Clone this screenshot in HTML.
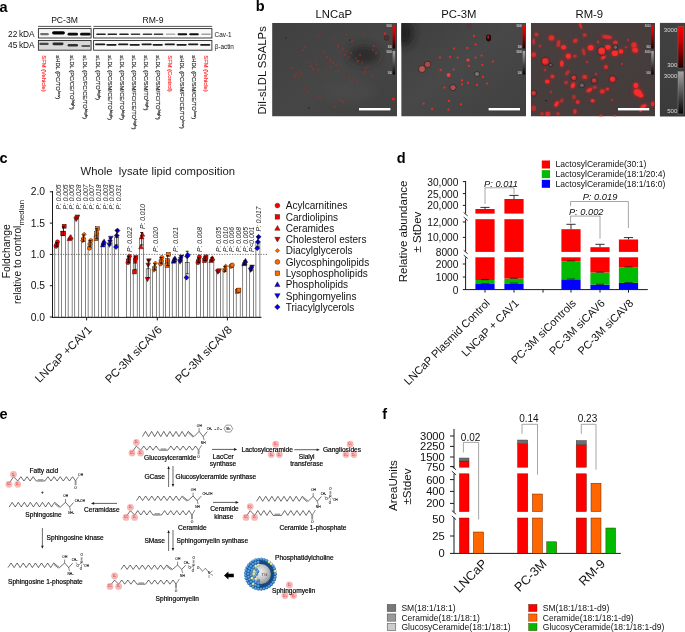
<!DOCTYPE html>
<html lang="en"><head><meta charset="utf-8"><title>Figure</title>
<style>
html,body{margin:0;padding:0;background:#fff;}
body{width:685px;height:632px;overflow:hidden;font-family:"Liberation Sans", sans-serif;}
svg{display:block;font-family:"Liberation Sans", sans-serif;}
</style></head><body>
<svg width="685" height="632" viewBox="0 0 685 632">
<defs>
<filter id="bl" x="-20%" y="-100%" width="140%" height="300%"><feGaussianBlur stdDeviation="0.45"/></filter>
<filter id="bl1" x="-50%" y="-50%" width="200%" height="200%"><feGaussianBlur stdDeviation="0.35"/></filter>
<filter id="bl3" x="-50%" y="-50%" width="200%" height="200%"><feGaussianBlur stdDeviation="4"/></filter>
<linearGradient id="gred" x1="0" y1="0" x2="0" y2="1"><stop offset="0" stop-color="#ff0000"/><stop offset="0.35" stop-color="#d00000"/><stop offset="1" stop-color="#200000"/></linearGradient>
<linearGradient id="ggray" x1="0" y1="0" x2="0" y2="1"><stop offset="0" stop-color="#a4a4a4"/><stop offset="1" stop-color="#050505"/></linearGradient>
<linearGradient id="gb1" x1="0" y1="0" x2="1" y2="1"><stop offset="0" stop-color="#404040"/><stop offset="0.55" stop-color="#464646"/><stop offset="1" stop-color="#404040"/></linearGradient>
<linearGradient id="gb2" x1="0" y1="0" x2="1" y2="1"><stop offset="0" stop-color="#3e3e3e"/><stop offset="0.45" stop-color="#484848"/><stop offset="1" stop-color="#404040"/></linearGradient>
<linearGradient id="gb3" x1="0" y1="0" x2="1" y2="1"><stop offset="0" stop-color="#483f3f"/><stop offset="1" stop-color="#443b3b"/></linearGradient>
<clipPath id="cb1"><rect x="272.1" y="22.9" width="124.9" height="93.6"/></clipPath>
<clipPath id="cb2"><rect x="401.2" y="22.9" width="124.8" height="93.6"/></clipPath>
<clipPath id="cb3"><rect x="530.8" y="22.9" width="124.3" height="93.6"/></clipPath>
<radialGradient id="gsph" cx="0.45" cy="0.4" r="0.65"><stop offset="0" stop-color="#f4f4f4"/><stop offset="0.55" stop-color="#c4c4c4"/><stop offset="1" stop-color="#8a8a8a"/></radialGradient>
<radialGradient id="gbb" cx="0.4" cy="0.35" r="0.7"><stop offset="0" stop-color="#7ab6ea"/><stop offset="0.55" stop-color="#3d86cc"/><stop offset="1" stop-color="#1b558f"/></radialGradient>
<radialGradient id="gby" cx="0.4" cy="0.35" r="0.7"><stop offset="0" stop-color="#f2f6d4"/><stop offset="0.6" stop-color="#c9d79a"/><stop offset="1" stop-color="#8b9a60"/></radialGradient>
<filter id="bl2" x="-50%" y="-50%" width="200%" height="200%"><feGaussianBlur stdDeviation="1.1"/></filter>
<linearGradient id="gcb" x1="0" y1="0" x2="0" y2="1"><stop offset="0" stop-color="#424242"/><stop offset="1" stop-color="#3a3a3a"/></linearGradient>
<filter id="bl05" x="-50%" y="-50%" width="200%" height="200%"><feGaussianBlur stdDeviation="0.55"/></filter>
<filter id="blb" x="-30%" y="-150%" width="160%" height="400%"><feGaussianBlur stdDeviation="0.7"/></filter>

</defs>
<rect width="685" height="632" fill="#fff"/>
<g id="panel_a">
<text x="-0.4" y="11.9" font-size="14.5" fill="#000" font-weight="bold" >a</text>
<text x="64.5" y="23.2" font-size="8.6" text-anchor="middle" fill="#111" >PC-3M</text>
<text x="153" y="23.2" font-size="8.6" text-anchor="middle" fill="#111" >RM-9</text>
<line x1="38" y1="26.4" x2="91.2" y2="26.4" stroke="#555" stroke-width="1.0" />
<line x1="93.4" y1="26.4" x2="212.2" y2="26.4" stroke="#555" stroke-width="1.0" />
<text x="34.6" y="37.0" font-size="8.3" text-anchor="end" fill="#111" word-spacing="-0.7">22 kDA</text>
<text x="34.6" y="47.8" font-size="8.3" text-anchor="end" fill="#111" word-spacing="-0.7">45 kDA</text>
<rect x="38.40" y="28.60" width="52.70" height="9.40" fill="#f6f6f6" stroke="#2a2a2a" stroke-width="0.9" />
<rect x="38.40" y="40.50" width="52.70" height="9.70" fill="#d8d8d8" stroke="#2a2a2a" stroke-width="0.9" />
<rect x="93.60" y="28.60" width="118.30" height="9.40" fill="#fafafa" stroke="#2a2a2a" stroke-width="0.9" />
<rect x="93.60" y="40.50" width="118.30" height="9.70" fill="#f8f8f8" stroke="#2a2a2a" stroke-width="0.9" />
<rect x="40.1" y="33.1" width="8.8" height="2.2" rx="1.1" fill="#707070" opacity="1" filter="url(#blb)"/>
<rect x="52.1" y="31.2" width="12.8" height="3.3" rx="1.65" fill="#000" opacity="1" filter="url(#blb)"/>
<rect x="67.6" y="32.8" width="10.4" height="2.8" rx="1.4" fill="#0a0a0a" opacity="1" filter="url(#blb)"/>
<rect x="80.1" y="32.8" width="10.4" height="2.8" rx="1.4" fill="#0a0a0a" opacity="1" filter="url(#blb)"/>
<rect x="39.3" y="42.8" width="9.4" height="2.3" rx="1.15" fill="#4a4a4a" opacity="1" filter="url(#blb)"/>
<rect x="52.5" y="42.5" width="11" height="2.7" rx="1.35" fill="#2a2a2a" opacity="1" filter="url(#blb)"/>
<rect x="67.6" y="44.1" width="10.4" height="2.5" rx="1.25" fill="#303030" opacity="1" filter="url(#blb)"/>
<rect x="81.3" y="44.9" width="9" height="2.2" rx="1.1" fill="#5a5a5a" opacity="1" filter="url(#blb)"/>
<rect x="96.2" y="33.5" width="9.6" height="1.5" rx="0.75" fill="#222" opacity="1" filter="url(#bl)"/>
<rect x="107.5" y="33.5" width="9.6" height="1.5" rx="0.75" fill="#222" opacity="1" filter="url(#bl)"/>
<rect x="119.2" y="33.5" width="9.6" height="1.5" rx="0.75" fill="#222" opacity="1" filter="url(#bl)"/>
<rect x="130.7" y="33.6" width="9.6" height="1.3" rx="0.65" fill="#3a3a3a" opacity="1" filter="url(#bl)"/>
<rect x="142.6" y="33.6" width="9.6" height="1.3" rx="0.65" fill="#3a3a3a" opacity="1" filter="url(#bl)"/>
<rect x="153.7" y="33.6" width="9.6" height="1.3" rx="0.65" fill="#3a3a3a" opacity="1" filter="url(#bl)"/>
<rect x="165.8" y="33.6" width="9.6" height="1.3" rx="0.65" fill="#b0b0b0" opacity="1" filter="url(#bl)"/>
<rect x="177.6" y="33.3" width="9.6" height="2.0" rx="1.0" fill="#111" opacity="1" filter="url(#bl)"/>
<rect x="189.2" y="33.3" width="9.6" height="2.0" rx="1.0" fill="#111" opacity="1" filter="url(#bl)"/>
<rect x="201.2" y="33.5" width="9.6" height="1.5" rx="0.75" fill="#a0a0a0" opacity="1" filter="url(#bl)"/>
<rect x="95.1" y="43.5" width="10.2" height="1.7" rx="0.85" fill="#1a1a1a" opacity="1" filter="url(#bl)"/>
<rect x="106.4" y="44.0" width="10.2" height="1.7" rx="0.85" fill="#1a1a1a" opacity="1" filter="url(#bl)"/>
<rect x="118.1" y="43.5" width="10.2" height="1.7" rx="0.85" fill="#1a1a1a" opacity="1" filter="url(#bl)"/>
<rect x="129.6" y="44.0" width="10.2" height="1.7" rx="0.85" fill="#1a1a1a" opacity="1" filter="url(#bl)"/>
<rect x="141.5" y="43.5" width="10.2" height="1.7" rx="0.85" fill="#1a1a1a" opacity="1" filter="url(#bl)"/>
<rect x="152.6" y="44.0" width="10.2" height="1.7" rx="0.85" fill="#1a1a1a" opacity="1" filter="url(#bl)"/>
<rect x="164.7" y="43.5" width="10.2" height="1.7" rx="0.85" fill="#1a1a1a" opacity="1" filter="url(#bl)"/>
<rect x="176.5" y="44.0" width="10.2" height="1.7" rx="0.85" fill="#1a1a1a" opacity="1" filter="url(#bl)"/>
<rect x="188.1" y="43.5" width="10.2" height="1.7" rx="0.85" fill="#1a1a1a" opacity="1" filter="url(#bl)"/>
<rect x="200.1" y="44.0" width="10.2" height="1.7" rx="0.85" fill="#1a1a1a" opacity="1" filter="url(#bl)"/>
<text x="214.6" y="36.6" font-size="6.4" fill="#111" >Cav-1</text>
<text x="214.6" y="48.6" font-size="6.4" fill="#111" >β-actin</text>
<text font-size="5.8" fill="#ff2a2a" stroke="#ff2a2a" stroke-width="0.15" transform="translate(42.4 55.3) rotate(90)">SFM (Vehicle)</text>
<text font-size="5.8" fill="#222" stroke="#222" stroke-width="0.15" transform="translate(56.2 55.3) rotate(90)">sHDL (PC/TO<tspan font-size="4.4" dy="-2.1">low</tspan><tspan dy="2.1">)</tspan></text>
<text font-size="5.8" fill="#222" stroke="#222" stroke-width="0.15" transform="translate(69.6 55.3) rotate(90)">sLDL (PC/CE/TO<tspan font-size="4.4" dy="-2.1">high</tspan><tspan dy="2.1">)</tspan></text>
<text font-size="5.8" fill="#222" stroke="#222" stroke-width="0.15" transform="translate(83.2 55.3) rotate(90)">sLDL (PC/FC/CE/TO<tspan font-size="4.4" dy="-2.1">high</tspan><tspan dy="2.1">)</tspan></text>
<text font-size="5.8" fill="#222" stroke="#222" stroke-width="0.15" transform="translate(96.3 55.3) rotate(90)">sLDL (PC/TO<tspan font-size="4.4" dy="-2.1">high</tspan><tspan dy="2.1">)</tspan></text>
<text font-size="5.8" fill="#222" stroke="#222" stroke-width="0.15" transform="translate(108.3 55.3) rotate(90)">sLDL (PC/SM/CE/TO<tspan font-size="4.4" dy="-2.1">high</tspan><tspan dy="2.1">)</tspan></text>
<text font-size="5.8" fill="#222" stroke="#222" stroke-width="0.15" transform="translate(120.3 55.3) rotate(90)">sLDL (PC/SM/CE/TO<tspan font-size="4.4" dy="-2.1">high</tspan><tspan dy="2.1">)</tspan></text>
<text font-size="5.8" fill="#222" stroke="#222" stroke-width="0.15" transform="translate(132.3 55.3) rotate(90)">sLDL (PC/SM/FC/CE/TO<tspan font-size="4.4" dy="-2.1">high</tspan><tspan dy="2.1">)</tspan></text>
<text font-size="5.8" fill="#222" stroke="#222" stroke-width="0.15" transform="translate(144.3 55.3) rotate(90)">sLDL (PC/SM/TO<tspan font-size="4.4" dy="-2.1">high</tspan><tspan dy="2.1">)</tspan></text>
<text font-size="5.8" fill="#222" stroke="#222" stroke-width="0.15" transform="translate(156.0 55.3) rotate(90)">sLDL (PC/SM/FC/TO<tspan font-size="4.4" dy="-2.1">high</tspan><tspan dy="2.1">)</tspan></text>
<text font-size="5.8" fill="#ff2a2a" stroke="#ff2a2a" stroke-width="0.15" transform="translate(168.3 55.3) rotate(90)">SFM (Control)</text>
<text font-size="5.8" fill="#222" stroke="#222" stroke-width="0.15" transform="translate(180.4 55.3) rotate(90)">sHDL (PC/SM/FC/CE/TO<tspan font-size="4.4" dy="-2.1">low</tspan><tspan dy="2.1">)</tspan></text>
<text font-size="5.8" fill="#222" stroke="#222" stroke-width="0.15" transform="translate(192.4 55.3) rotate(90)">sHDL (PC/SM/CE/TO<tspan font-size="4.4" dy="-2.1">low</tspan><tspan dy="2.1">)</tspan></text>
<text font-size="5.8" fill="#ff2a2a" stroke="#ff2a2a" stroke-width="0.15" transform="translate(204.4 55.3) rotate(90)">SFM (Vehicle)</text>
</g>
<g id="panel_b">
<text x="255.8" y="10.5" font-size="14.5" fill="#000" font-weight="bold" >b</text>
<text x="333.8" y="17.6" font-size="11.3" text-anchor="middle" fill="#111" >LNCaP</text>
<text x="458.8" y="17.6" font-size="11.3" text-anchor="middle" fill="#111" >PC-3M</text>
<text x="589.3" y="17.6" font-size="11.3" text-anchor="middle" fill="#111" >RM-9</text>
<text x="265.7" y="114.6" font-size="11.25" fill="#111" transform="rotate(-90 265.7 114.6)" >DiI-sLDL SSALPs</text>
<g clip-path="url(#cb1)">
<rect x="272.10" y="22.90" width="124.90" height="93.60" fill="url(#gb1)" />
<ellipse cx="364" cy="55" rx="15" ry="9" fill="#242424" opacity="0.75" filter="url(#bl3)"/>
<ellipse cx="350" cy="92" rx="26" ry="10" fill="#505050" opacity="0.4" filter="url(#bl3)"/>
<circle cx="305" cy="47" r="0.93" fill="#b42c24" opacity="0.49" filter="url(#bl1)"/>
<circle cx="303" cy="50" r="1.00" fill="#b42c24" opacity="0.50" filter="url(#bl1)"/>
<circle cx="320" cy="35" r="1.14" fill="#b42c24" opacity="0.37" filter="url(#bl1)"/>
<circle cx="317" cy="37" r="0.81" fill="#b42c24" opacity="0.56" filter="url(#bl1)"/>
<circle cx="309" cy="62" r="0.94" fill="#b42c24" opacity="0.41" filter="url(#bl1)"/>
<circle cx="311" cy="66" r="1.35" fill="#b42c24" opacity="0.47" filter="url(#bl1)"/>
<circle cx="313" cy="69" r="1.26" fill="#b42c24" opacity="0.47" filter="url(#bl1)"/>
<circle cx="316" cy="64" r="1.15" fill="#b42c24" opacity="0.39" filter="url(#bl1)"/>
<circle cx="318" cy="70" r="1.15" fill="#b42c24" opacity="0.57" filter="url(#bl1)"/>
<circle cx="296" cy="74" r="1.09" fill="#b42c24" opacity="0.54" filter="url(#bl1)"/>
<circle cx="299" cy="76" r="1.17" fill="#b42c24" opacity="0.37" filter="url(#bl1)"/>
<circle cx="301" cy="72" r="1.22" fill="#b42c24" opacity="0.50" filter="url(#bl1)"/>
<circle cx="302" cy="75" r="0.97" fill="#b42c24" opacity="0.36" filter="url(#bl1)"/>
<circle cx="295" cy="77" r="1.28" fill="#b42c24" opacity="0.47" filter="url(#bl1)"/>
<circle cx="327" cy="57" r="1.20" fill="#b42c24" opacity="0.57" filter="url(#bl1)"/>
<circle cx="330" cy="60" r="1.19" fill="#b42c24" opacity="0.58" filter="url(#bl1)"/>
<circle cx="333" cy="63" r="1.02" fill="#b42c24" opacity="0.55" filter="url(#bl1)"/>
<circle cx="331" cy="67" r="1.04" fill="#b42c24" opacity="0.58" filter="url(#bl1)"/>
<circle cx="336" cy="65" r="1.28" fill="#b42c24" opacity="0.37" filter="url(#bl1)"/>
<circle cx="341" cy="52" r="0.87" fill="#b42c24" opacity="0.40" filter="url(#bl1)"/>
<circle cx="343" cy="49" r="1.33" fill="#b42c24" opacity="0.46" filter="url(#bl1)"/>
<circle cx="345" cy="55" r="1.14" fill="#b42c24" opacity="0.43" filter="url(#bl1)"/>
<circle cx="347" cy="51" r="1.08" fill="#b42c24" opacity="0.45" filter="url(#bl1)"/>
<circle cx="349" cy="57" r="0.99" fill="#b42c24" opacity="0.50" filter="url(#bl1)"/>
<circle cx="351" cy="53" r="1.12" fill="#b42c24" opacity="0.58" filter="url(#bl1)"/>
<circle cx="338" cy="46" r="1.18" fill="#b42c24" opacity="0.58" filter="url(#bl1)"/>
<circle cx="352" cy="41" r="1.27" fill="#b42c24" opacity="0.60" filter="url(#bl1)"/>
<circle cx="356" cy="58" r="1.17" fill="#b42c24" opacity="0.39" filter="url(#bl1)"/>
<circle cx="358" cy="61" r="1.27" fill="#b42c24" opacity="0.59" filter="url(#bl1)"/>
<circle cx="360" cy="55" r="1.30" fill="#b42c24" opacity="0.49" filter="url(#bl1)"/>
<circle cx="362" cy="63" r="1.19" fill="#b42c24" opacity="0.40" filter="url(#bl1)"/>
<circle cx="366" cy="68" r="1.26" fill="#b42c24" opacity="0.49" filter="url(#bl1)"/>
<circle cx="368" cy="66" r="0.96" fill="#b42c24" opacity="0.37" filter="url(#bl1)"/>
<circle cx="365" cy="72" r="1.27" fill="#b42c24" opacity="0.60" filter="url(#bl1)"/>
<circle cx="355" cy="79" r="0.85" fill="#b42c24" opacity="0.55" filter="url(#bl1)"/>
<circle cx="358" cy="82" r="1.03" fill="#b42c24" opacity="0.39" filter="url(#bl1)"/>
<circle cx="352" cy="81" r="0.96" fill="#b42c24" opacity="0.54" filter="url(#bl1)"/>
<circle cx="349" cy="78" r="1.28" fill="#b42c24" opacity="0.36" filter="url(#bl1)"/>
<circle cx="344" cy="75" r="1.14" fill="#b42c24" opacity="0.36" filter="url(#bl1)"/>
<circle cx="373" cy="50" r="1.20" fill="#b42c24" opacity="0.43" filter="url(#bl1)"/>
<circle cx="376" cy="53" r="1.28" fill="#b42c24" opacity="0.60" filter="url(#bl1)"/>
<circle cx="374" cy="46" r="1.08" fill="#b42c24" opacity="0.60" filter="url(#bl1)"/>
<circle cx="380" cy="60" r="0.97" fill="#b42c24" opacity="0.37" filter="url(#bl1)"/>
<circle cx="372" cy="76" r="1.13" fill="#b42c24" opacity="0.36" filter="url(#bl1)"/>
<circle cx="334" cy="38" r="0.91" fill="#b42c24" opacity="0.45" filter="url(#bl1)"/>
<circle cx="346" cy="35" r="1.14" fill="#b42c24" opacity="0.39" filter="url(#bl1)"/>
<circle cx="363" cy="33" r="0.82" fill="#b42c24" opacity="0.57" filter="url(#bl1)"/>
<circle cx="304" cy="88" r="0.97" fill="#b42c24" opacity="0.59" filter="url(#bl1)"/>
<circle cx="307" cy="91" r="1.29" fill="#b42c24" opacity="0.44" filter="url(#bl1)"/>
<circle cx="317" cy="97" r="1.05" fill="#b42c24" opacity="0.48" filter="url(#bl1)"/>
<circle cx="320" cy="99" r="1.15" fill="#b42c24" opacity="0.50" filter="url(#bl1)"/>
<circle cx="341" cy="100" r="1.11" fill="#b42c24" opacity="0.51" filter="url(#bl1)"/>
<circle cx="343" cy="102" r="1.32" fill="#b42c24" opacity="0.48" filter="url(#bl1)"/>
<circle cx="335" cy="107" r="1.04" fill="#b42c24" opacity="0.53" filter="url(#bl1)"/>
<circle cx="325" cy="83" r="0.93" fill="#b42c24" opacity="0.43" filter="url(#bl1)"/>
<circle cx="292" cy="68" r="1.34" fill="#b42c24" opacity="0.48" filter="url(#bl1)"/>
<circle cx="338" cy="71" r="1.10" fill="#b42c24" opacity="0.35" filter="url(#bl1)"/>
<circle cx="323" cy="52" r="1.03" fill="#b42c24" opacity="0.49" filter="url(#bl1)"/>
<circle cx="314" cy="56" r="0.81" fill="#b42c24" opacity="0.50" filter="url(#bl1)"/>
<circle cx="327" cy="72" r="1.15" fill="#b42c24" opacity="0.37" filter="url(#bl1)"/>
<circle cx="386.5" cy="38" r="2.3" fill="#6a2a2a" stroke="#222" stroke-width="0.5"/>
<circle cx="385" cy="33.5" r="1.3" fill="#e02020"/>
<circle cx="393.5" cy="99" r="1.6" fill="#e02020"/>
<circle cx="286" cy="38" r="1" fill="#303030"/>
<circle cx="350" cy="40" r="1" fill="#303030"/>
<circle cx="309" cy="108" r="1" fill="#303030"/>
</g>
<rect x="392.60" y="25.00" width="2.60" height="23.50" fill="url(#gred)" /><rect x="392.60" y="51.00" width="2.60" height="23.50" fill="url(#ggray)" /><text x="392.0" y="27.4" font-size="2.6" text-anchor="end" fill="#eee" >3000</text><text x="392.0" y="48.2" font-size="2.6" text-anchor="end" fill="#eee" >300</text><text x="392.0" y="53.4" font-size="2.6" text-anchor="end" fill="#eee" >3000</text><text x="392.0" y="74.2" font-size="2.6" text-anchor="end" fill="#eee" >500</text>
<rect x="359.00" y="108.00" width="31.40" height="2.40" fill="#fff" />
<g clip-path="url(#cb2)">
<rect x="401.20" y="22.90" width="124.80" height="93.60" fill="url(#gb2)" />
<ellipse cx="404" cy="33" rx="9" ry="13" fill="#1e1e1e" opacity="0.9" filter="url(#bl3)"/>
<circle cx="474" cy="36" r="1.15" fill="#f02a24" opacity="0.95" filter="url(#bl1)"/>
<circle cx="475.6" cy="44.4" r="1.15" fill="#f02a24" opacity="0.95" filter="url(#bl1)"/>
<circle cx="467.4" cy="48" r="1.15" fill="#f02a24" opacity="0.95" filter="url(#bl1)"/>
<circle cx="450" cy="57" r="1.15" fill="#f02a24" opacity="0.95" filter="url(#bl1)"/>
<circle cx="457.6" cy="57.6" r="1.15" fill="#f02a24" opacity="0.95" filter="url(#bl1)"/>
<circle cx="475.6" cy="57.6" r="1.15" fill="#f02a24" opacity="0.95" filter="url(#bl1)"/>
<circle cx="481.6" cy="55.6" r="1.15" fill="#f02a24" opacity="0.95" filter="url(#bl1)"/>
<circle cx="493" cy="61.6" r="1.15" fill="#f02a24" opacity="0.95" filter="url(#bl1)"/>
<circle cx="482.4" cy="65" r="1.15" fill="#f02a24" opacity="0.95" filter="url(#bl1)"/>
<circle cx="469" cy="66" r="1.15" fill="#f02a24" opacity="0.95" filter="url(#bl1)"/>
<circle cx="440.6" cy="70" r="1.15" fill="#f02a24" opacity="0.95" filter="url(#bl1)"/>
<circle cx="453.6" cy="69.6" r="1.15" fill="#f02a24" opacity="0.95" filter="url(#bl1)"/>
<circle cx="483" cy="77" r="1.15" fill="#f02a24" opacity="0.95" filter="url(#bl1)"/>
<circle cx="462" cy="80.4" r="1.15" fill="#f02a24" opacity="0.95" filter="url(#bl1)"/>
<circle cx="468" cy="83" r="1.15" fill="#f02a24" opacity="0.95" filter="url(#bl1)"/>
<circle cx="477" cy="85" r="1.15" fill="#f02a24" opacity="0.95" filter="url(#bl1)"/>
<circle cx="487" cy="83.6" r="1.15" fill="#f02a24" opacity="0.95" filter="url(#bl1)"/>
<circle cx="462" cy="84.4" r="1.15" fill="#f02a24" opacity="0.95" filter="url(#bl1)"/>
<circle cx="444.4" cy="87.6" r="1.15" fill="#f02a24" opacity="0.95" filter="url(#bl1)"/>
<circle cx="449" cy="101" r="1.15" fill="#f02a24" opacity="0.95" filter="url(#bl1)"/>
<circle cx="423.6" cy="103.6" r="1.15" fill="#f02a24" opacity="0.95" filter="url(#bl1)"/>
<circle cx="461" cy="104.4" r="1.15" fill="#f02a24" opacity="0.95" filter="url(#bl1)"/>
<circle cx="432" cy="109" r="1.15" fill="#f02a24" opacity="0.95" filter="url(#bl1)"/>
<circle cx="448.4" cy="109.6" r="1.15" fill="#f02a24" opacity="0.95" filter="url(#bl1)"/>
<circle cx="454" cy="48.6" r="1.15" fill="#f02a24" opacity="0.95" filter="url(#bl1)"/>
<circle cx="440" cy="57.6" r="1.15" fill="#f02a24" opacity="0.95" filter="url(#bl1)"/>
<circle cx="468" cy="60" r="1.6" fill="#ff3a30"/>
<circle cx="448.6" cy="75" r="2" fill="#ff3a30" filter="url(#bl1)"/>
<circle cx="469" cy="26.4" r="1.8" fill="#7a3030" stroke="#333" stroke-width="0.4"/>
<circle cx="427.6" cy="64.4" r="3.2" fill="#a84a48" stroke="#1a1a1a" stroke-width="0.6"/>
<circle cx="422" cy="69" r="3.5" fill="#b85452" stroke="#1a1a1a" stroke-width="0.6"/>
<circle cx="453" cy="87.6" r="3.1" fill="#a85050" stroke="#1a1a1a" stroke-width="0.6"/>
<circle cx="477" cy="74" r="2.5" fill="#7a7474" stroke="#1a1a1a" stroke-width="0.6"/>
<ellipse cx="488.6" cy="38" rx="2.6" ry="3.4" fill="#1a0a0a"/>
<ellipse cx="488.2" cy="37" rx="1" ry="1.8" fill="#c01818"/>
</g>
<rect x="522.60" y="25.00" width="2.60" height="23.50" fill="url(#gred)" /><rect x="522.60" y="51.00" width="2.60" height="23.50" fill="url(#ggray)" /><text x="522.0" y="27.4" font-size="2.6" text-anchor="end" fill="#eee" >3000</text><text x="522.0" y="48.2" font-size="2.6" text-anchor="end" fill="#eee" >300</text><text x="522.0" y="53.4" font-size="2.6" text-anchor="end" fill="#eee" >3000</text><text x="522.0" y="74.2" font-size="2.6" text-anchor="end" fill="#eee" >500</text>
<rect x="488.60" y="108.00" width="31.40" height="2.40" fill="#fff" />
<g clip-path="url(#cb3)">
<rect x="530.80" y="22.90" width="124.30" height="93.60" fill="url(#gb3)" />
<ellipse cx="580.5" cy="25.7" rx="1.87" ry="5.44" transform="rotate(-20 580.5 25.7)" fill="#d81a1a" opacity="0.27" filter="url(#bl2)"/>
<ellipse cx="536.5" cy="34.6" rx="3.40" ry="3.40" transform="rotate(0 536.5 34.6)" fill="#d81a1a" opacity="0.17" filter="url(#bl2)"/>
<ellipse cx="533.7" cy="41.6" rx="2.38" ry="5.44" transform="rotate(0 533.7 41.6)" fill="#d81a1a" opacity="0.14" filter="url(#bl2)"/>
<ellipse cx="551.5" cy="37.9" rx="4.93" ry="4.42" transform="rotate(0 551.5 37.9)" fill="#d81a1a" opacity="0.22" filter="url(#bl2)"/>
<ellipse cx="558.5" cy="43.5" rx="3.06" ry="6.12" transform="rotate(10 558.5 43.5)" fill="#d81a1a" opacity="0.17" filter="url(#bl2)"/>
<ellipse cx="563.6" cy="47.2" rx="4.25" ry="3.91" transform="rotate(0 563.6 47.2)" fill="#d81a1a" opacity="0.30" filter="url(#bl2)"/>
<ellipse cx="575.3" cy="40.7" rx="4.08" ry="3.40" transform="rotate(-30 575.3 40.7)" fill="#d81a1a" opacity="0.21" filter="url(#bl2)"/>
<ellipse cx="584.7" cy="35.1" rx="3.40" ry="3.40" transform="rotate(0 584.7 35.1)" fill="#d81a1a" opacity="0.14" filter="url(#bl2)"/>
<ellipse cx="590.7" cy="47.7" rx="4.93" ry="4.59" transform="rotate(0 590.7 47.7)" fill="#d81a1a" opacity="0.30" filter="url(#bl2)"/>
<ellipse cx="583.7" cy="51.9" rx="2.72" ry="5.78" transform="rotate(-15 583.7 51.9)" fill="#d81a1a" opacity="0.15" filter="url(#bl2)"/>
<ellipse cx="568.3" cy="56.1" rx="4.42" ry="4.42" transform="rotate(0 568.3 56.1)" fill="#d81a1a" opacity="0.30" filter="url(#bl2)"/>
<ellipse cx="574.9" cy="56.1" rx="3.40" ry="2.72" transform="rotate(0 574.9 56.1)" fill="#d81a1a" opacity="0.14" filter="url(#bl2)"/>
<ellipse cx="533.7" cy="54.7" rx="4.08" ry="4.08" transform="rotate(0 533.7 54.7)" fill="#d81a1a" opacity="0.21" filter="url(#bl2)"/>
<ellipse cx="561.8" cy="63.6" rx="3.06" ry="5.44" transform="rotate(0 561.8 63.6)" fill="#d81a1a" opacity="0.28" filter="url(#bl2)"/>
<ellipse cx="607" cy="37" rx="8.50" ry="3.23" transform="rotate(8 607 37)" fill="#d81a1a" opacity="0.21" filter="url(#bl2)"/>
<ellipse cx="615.4" cy="42.6" rx="3.91" ry="3.40" transform="rotate(0 615.4 42.6)" fill="#d81a1a" opacity="0.21" filter="url(#bl2)"/>
<ellipse cx="607.9" cy="47.2" rx="4.59" ry="4.25" transform="rotate(0 607.9 47.2)" fill="#d81a1a" opacity="0.30" filter="url(#bl2)"/>
<ellipse cx="614.9" cy="53.3" rx="5.27" ry="4.76" transform="rotate(0 614.9 53.3)" fill="#d81a1a" opacity="0.30" filter="url(#bl2)"/>
<ellipse cx="621" cy="51.4" rx="3.91" ry="3.74" transform="rotate(0 621 51.4)" fill="#d81a1a" opacity="0.30" filter="url(#bl2)"/>
<ellipse cx="603.2" cy="57.5" rx="4.42" ry="2.55" transform="rotate(-35 603.2 57.5)" fill="#d81a1a" opacity="0.30" filter="url(#bl2)"/>
<ellipse cx="634" cy="44.9" rx="4.76" ry="4.42" transform="rotate(0 634 44.9)" fill="#d81a1a" opacity="0.21" filter="url(#bl2)"/>
<ellipse cx="635.2" cy="50" rx="5.10" ry="4.42" transform="rotate(20 635.2 50)" fill="#d81a1a" opacity="0.28" filter="url(#bl2)"/>
<ellipse cx="606" cy="66.9" rx="3.23" ry="3.74" transform="rotate(0 606 66.9)" fill="#d81a1a" opacity="0.21" filter="url(#bl2)"/>
<ellipse cx="626" cy="47.2" rx="2.04" ry="2.04" transform="rotate(0 626 47.2)" fill="#d81a1a" opacity="0.12" filter="url(#bl2)"/>
<ellipse cx="598" cy="42" rx="2.38" ry="2.38" transform="rotate(0 598 42)" fill="#d81a1a" opacity="0.12" filter="url(#bl2)"/>
<ellipse cx="628" cy="40" rx="2.04" ry="2.04" transform="rotate(0 628 40)" fill="#d81a1a" opacity="0.10" filter="url(#bl2)"/>
<ellipse cx="552.4" cy="76.4" rx="3.40" ry="3.40" transform="rotate(0 552.4 76.4)" fill="#d81a1a" opacity="0.21" filter="url(#bl2)"/>
<ellipse cx="547.3" cy="81.6" rx="3.91" ry="3.57" transform="rotate(0 547.3 81.6)" fill="#d81a1a" opacity="0.28" filter="url(#bl2)"/>
<ellipse cx="567.4" cy="72.7" rx="2.72" ry="5.10" transform="rotate(35 567.4 72.7)" fill="#d81a1a" opacity="0.14" filter="url(#bl2)"/>
<ellipse cx="584.7" cy="76.9" rx="4.25" ry="3.74" transform="rotate(0 584.7 76.9)" fill="#d81a1a" opacity="0.20" filter="url(#bl2)"/>
<ellipse cx="573" cy="85.3" rx="3.40" ry="4.93" transform="rotate(25 573 85.3)" fill="#d81a1a" opacity="0.30" filter="url(#bl2)"/>
<ellipse cx="566" cy="82.5" rx="3.23" ry="3.23" transform="rotate(0 566 82.5)" fill="#d81a1a" opacity="0.12" filter="url(#bl2)"/>
<ellipse cx="589.3" cy="90" rx="5.10" ry="3.06" transform="rotate(-30 589.3 90)" fill="#d81a1a" opacity="0.30" filter="url(#bl2)"/>
<ellipse cx="556.6" cy="104" rx="3.23" ry="5.10" transform="rotate(30 556.6 104)" fill="#d81a1a" opacity="0.30" filter="url(#bl2)"/>
<ellipse cx="561.8" cy="100.7" rx="2.72" ry="4.08" transform="rotate(30 561.8 100.7)" fill="#d81a1a" opacity="0.12" filter="url(#bl2)"/>
<ellipse cx="577.7" cy="102.1" rx="3.40" ry="3.40" transform="rotate(0 577.7 102.1)" fill="#d81a1a" opacity="0.21" filter="url(#bl2)"/>
<ellipse cx="573.9" cy="97" rx="3.06" ry="3.74" transform="rotate(0 573.9 97)" fill="#d81a1a" opacity="0.10" filter="url(#bl2)"/>
<ellipse cx="574.9" cy="111.5" rx="3.06" ry="4.08" transform="rotate(0 574.9 111.5)" fill="#d81a1a" opacity="0.21" filter="url(#bl2)"/>
<ellipse cx="547.8" cy="113.8" rx="4.42" ry="3.74" transform="rotate(0 547.8 113.8)" fill="#d81a1a" opacity="0.21" filter="url(#bl2)"/>
<ellipse cx="542" cy="113.8" rx="3.06" ry="3.06" transform="rotate(0 542 113.8)" fill="#d81a1a" opacity="0.12" filter="url(#bl2)"/>
<ellipse cx="533.7" cy="108.2" rx="4.08" ry="4.42" transform="rotate(0 533.7 108.2)" fill="#d81a1a" opacity="0.12" filter="url(#bl2)"/>
<ellipse cx="558" cy="113.8" rx="3.06" ry="3.06" transform="rotate(0 558 113.8)" fill="#d81a1a" opacity="0.12" filter="url(#bl2)"/>
<ellipse cx="592.6" cy="100.7" rx="3.40" ry="3.06" transform="rotate(0 592.6 100.7)" fill="#d81a1a" opacity="0.28" filter="url(#bl2)"/>
<ellipse cx="602.3" cy="91.4" rx="4.25" ry="3.74" transform="rotate(-20 602.3 91.4)" fill="#d81a1a" opacity="0.22" filter="url(#bl2)"/>
<ellipse cx="607.4" cy="89" rx="3.06" ry="2.72" transform="rotate(0 607.4 89)" fill="#d81a1a" opacity="0.21" filter="url(#bl2)"/>
<ellipse cx="594.8" cy="87.2" rx="3.40" ry="3.06" transform="rotate(0 594.8 87.2)" fill="#d81a1a" opacity="0.12" filter="url(#bl2)"/>
<ellipse cx="635.9" cy="85.3" rx="4.08" ry="4.42" transform="rotate(0 635.9 85.3)" fill="#d81a1a" opacity="0.30" filter="url(#bl2)"/>
<ellipse cx="637.8" cy="92.6" rx="7.14" ry="5.78" transform="rotate(35 637.8 92.6)" fill="#d81a1a" opacity="0.30" filter="url(#bl2)"/>
<ellipse cx="641" cy="95.5" rx="4.08" ry="3.40" transform="rotate(0 641 95.5)" fill="#d81a1a" opacity="0.30" filter="url(#bl2)"/>
<ellipse cx="643.4" cy="106.3" rx="5.44" ry="3.23" transform="rotate(-25 643.4 106.3)" fill="#d81a1a" opacity="0.30" filter="url(#bl2)"/>
<ellipse cx="640.6" cy="110.5" rx="2.38" ry="2.72" transform="rotate(0 640.6 110.5)" fill="#d81a1a" opacity="0.24" filter="url(#bl2)"/>
<ellipse cx="652.7" cy="104" rx="3.06" ry="4.08" transform="rotate(0 652.7 104)" fill="#d81a1a" opacity="0.21" filter="url(#bl2)"/>
<ellipse cx="600.9" cy="116" rx="2.72" ry="2.38" transform="rotate(0 600.9 116)" fill="#d81a1a" opacity="0.18" filter="url(#bl2)"/>
<ellipse cx="614.9" cy="116" rx="2.38" ry="2.04" transform="rotate(0 614.9 116)" fill="#d81a1a" opacity="0.15" filter="url(#bl2)"/>
<ellipse cx="545" cy="70" rx="2.38" ry="2.38" transform="rotate(0 545 70)" fill="#d81a1a" opacity="0.10" filter="url(#bl2)"/>
<ellipse cx="540" cy="46" rx="2.21" ry="2.72" transform="rotate(0 540 46)" fill="#d81a1a" opacity="0.10" filter="url(#bl2)"/>
<ellipse cx="596" cy="74" rx="2.21" ry="2.21" transform="rotate(0 596 74)" fill="#d81a1a" opacity="0.10" filter="url(#bl2)"/>
<ellipse cx="622" cy="64" rx="2.04" ry="2.04" transform="rotate(0 622 64)" fill="#d81a1a" opacity="0.09" filter="url(#bl2)"/>
<ellipse cx="587" cy="62" rx="2.21" ry="2.21" transform="rotate(0 587 62)" fill="#d81a1a" opacity="0.10" filter="url(#bl2)"/>
<ellipse cx="551" cy="92" rx="2.21" ry="2.21" transform="rotate(0 551 92)" fill="#d81a1a" opacity="0.09" filter="url(#bl2)"/>
<ellipse cx="612" cy="100" rx="2.04" ry="2.04" transform="rotate(0 612 100)" fill="#d81a1a" opacity="0.09" filter="url(#bl2)"/>
<ellipse cx="580.5" cy="25.7" rx="1.10" ry="3.20" transform="rotate(-20 580.5 25.7)" fill="#ff2a2a" opacity="0.93" filter="url(#bl05)"/>
<ellipse cx="536.5" cy="34.6" rx="2.00" ry="2.00" transform="rotate(0 536.5 34.6)" fill="#ff2a2a" opacity="0.66" filter="url(#bl05)"/>
<ellipse cx="533.7" cy="41.6" rx="1.40" ry="3.20" transform="rotate(0 533.7 41.6)" fill="#ff2a2a" opacity="0.59" filter="url(#bl05)"/>
<ellipse cx="551.5" cy="37.9" rx="2.90" ry="2.60" transform="rotate(0 551.5 37.9)" fill="#ff2a2a" opacity="0.81" filter="url(#bl05)"/>
<ellipse cx="558.5" cy="43.5" rx="1.80" ry="3.60" transform="rotate(10 558.5 43.5)" fill="#ff2a2a" opacity="0.66" filter="url(#bl05)"/>
<ellipse cx="563.6" cy="47.2" rx="2.50" ry="2.30" transform="rotate(0 563.6 47.2)" fill="#ff2a2a" opacity="1.00" filter="url(#bl05)"/>
<ellipse cx="575.3" cy="40.7" rx="2.40" ry="2.00" transform="rotate(-30 575.3 40.7)" fill="#ff2a2a" opacity="0.77" filter="url(#bl05)"/>
<ellipse cx="584.7" cy="35.1" rx="2.00" ry="2.00" transform="rotate(0 584.7 35.1)" fill="#ff2a2a" opacity="0.59" filter="url(#bl05)"/>
<ellipse cx="590.7" cy="47.7" rx="2.90" ry="2.70" transform="rotate(0 590.7 47.7)" fill="#ff2a2a" opacity="1.00" filter="url(#bl05)"/>
<ellipse cx="583.7" cy="51.9" rx="1.60" ry="3.40" transform="rotate(-15 583.7 51.9)" fill="#ff2a2a" opacity="0.62" filter="url(#bl05)"/>
<ellipse cx="568.3" cy="56.1" rx="2.60" ry="2.60" transform="rotate(0 568.3 56.1)" fill="#ff2a2a" opacity="1.00" filter="url(#bl05)"/>
<ellipse cx="574.9" cy="56.1" rx="2.00" ry="1.60" transform="rotate(0 574.9 56.1)" fill="#ff2a2a" opacity="0.59" filter="url(#bl05)"/>
<ellipse cx="533.7" cy="54.7" rx="2.40" ry="2.40" transform="rotate(0 533.7 54.7)" fill="#ff2a2a" opacity="0.77" filter="url(#bl05)"/>
<ellipse cx="561.8" cy="63.6" rx="1.80" ry="3.20" transform="rotate(0 561.8 63.6)" fill="#ff2a2a" opacity="0.96" filter="url(#bl05)"/>
<ellipse cx="607" cy="37" rx="5.00" ry="1.90" transform="rotate(8 607 37)" fill="#ff2a2a" opacity="0.77" filter="url(#bl05)"/>
<ellipse cx="615.4" cy="42.6" rx="2.30" ry="2.00" transform="rotate(0 615.4 42.6)" fill="#ff2a2a" opacity="0.77" filter="url(#bl05)"/>
<ellipse cx="607.9" cy="47.2" rx="2.70" ry="2.50" transform="rotate(0 607.9 47.2)" fill="#ff2a2a" opacity="1.00" filter="url(#bl05)"/>
<ellipse cx="614.9" cy="53.3" rx="3.10" ry="2.80" transform="rotate(0 614.9 53.3)" fill="#ff2a2a" opacity="1.00" filter="url(#bl05)"/>
<ellipse cx="621" cy="51.4" rx="2.30" ry="2.20" transform="rotate(0 621 51.4)" fill="#ff2a2a" opacity="1.00" filter="url(#bl05)"/>
<ellipse cx="603.2" cy="57.5" rx="2.60" ry="1.50" transform="rotate(-35 603.2 57.5)" fill="#ff2a2a" opacity="1.00" filter="url(#bl05)"/>
<ellipse cx="634" cy="44.9" rx="2.80" ry="2.60" transform="rotate(0 634 44.9)" fill="#ff2a2a" opacity="0.77" filter="url(#bl05)"/>
<ellipse cx="635.2" cy="50" rx="3.00" ry="2.60" transform="rotate(20 635.2 50)" fill="#ff2a2a" opacity="0.96" filter="url(#bl05)"/>
<ellipse cx="606" cy="66.9" rx="1.90" ry="2.20" transform="rotate(0 606 66.9)" fill="#ff2a2a" opacity="0.77" filter="url(#bl05)"/>
<ellipse cx="626" cy="47.2" rx="1.20" ry="1.20" transform="rotate(0 626 47.2)" fill="#ff2a2a" opacity="0.55" filter="url(#bl05)"/>
<ellipse cx="598" cy="42" rx="1.40" ry="1.40" transform="rotate(0 598 42)" fill="#ff2a2a" opacity="0.55" filter="url(#bl05)"/>
<ellipse cx="628" cy="40" rx="1.20" ry="1.20" transform="rotate(0 628 40)" fill="#ff2a2a" opacity="0.51" filter="url(#bl05)"/>
<ellipse cx="552.4" cy="76.4" rx="2.00" ry="2.00" transform="rotate(0 552.4 76.4)" fill="#ff2a2a" opacity="0.77" filter="url(#bl05)"/>
<ellipse cx="547.3" cy="81.6" rx="2.30" ry="2.10" transform="rotate(0 547.3 81.6)" fill="#ff2a2a" opacity="0.96" filter="url(#bl05)"/>
<ellipse cx="567.4" cy="72.7" rx="1.60" ry="3.00" transform="rotate(35 567.4 72.7)" fill="#ff2a2a" opacity="0.59" filter="url(#bl05)"/>
<ellipse cx="584.7" cy="76.9" rx="2.50" ry="2.20" transform="rotate(0 584.7 76.9)" fill="#ff2a2a" opacity="0.74" filter="url(#bl05)"/>
<ellipse cx="573" cy="85.3" rx="2.00" ry="2.90" transform="rotate(25 573 85.3)" fill="#ff2a2a" opacity="1.00" filter="url(#bl05)"/>
<ellipse cx="566" cy="82.5" rx="1.90" ry="1.90" transform="rotate(0 566 82.5)" fill="#ff2a2a" opacity="0.55" filter="url(#bl05)"/>
<ellipse cx="589.3" cy="90" rx="3.00" ry="1.80" transform="rotate(-30 589.3 90)" fill="#ff2a2a" opacity="1.00" filter="url(#bl05)"/>
<ellipse cx="556.6" cy="104" rx="1.90" ry="3.00" transform="rotate(30 556.6 104)" fill="#ff2a2a" opacity="1.00" filter="url(#bl05)"/>
<ellipse cx="561.8" cy="100.7" rx="1.60" ry="2.40" transform="rotate(30 561.8 100.7)" fill="#ff2a2a" opacity="0.55" filter="url(#bl05)"/>
<ellipse cx="577.7" cy="102.1" rx="2.00" ry="2.00" transform="rotate(0 577.7 102.1)" fill="#ff2a2a" opacity="0.77" filter="url(#bl05)"/>
<ellipse cx="573.9" cy="97" rx="1.80" ry="2.20" transform="rotate(0 573.9 97)" fill="#ff2a2a" opacity="0.51" filter="url(#bl05)"/>
<ellipse cx="574.9" cy="111.5" rx="1.80" ry="2.40" transform="rotate(0 574.9 111.5)" fill="#ff2a2a" opacity="0.77" filter="url(#bl05)"/>
<ellipse cx="547.8" cy="113.8" rx="2.60" ry="2.20" transform="rotate(0 547.8 113.8)" fill="#ff2a2a" opacity="0.77" filter="url(#bl05)"/>
<ellipse cx="542" cy="113.8" rx="1.80" ry="1.80" transform="rotate(0 542 113.8)" fill="#ff2a2a" opacity="0.55" filter="url(#bl05)"/>
<ellipse cx="533.7" cy="108.2" rx="2.40" ry="2.60" transform="rotate(0 533.7 108.2)" fill="#ff2a2a" opacity="0.55" filter="url(#bl05)"/>
<ellipse cx="558" cy="113.8" rx="1.80" ry="1.80" transform="rotate(0 558 113.8)" fill="#ff2a2a" opacity="0.55" filter="url(#bl05)"/>
<ellipse cx="592.6" cy="100.7" rx="2.00" ry="1.80" transform="rotate(0 592.6 100.7)" fill="#ff2a2a" opacity="0.96" filter="url(#bl05)"/>
<ellipse cx="602.3" cy="91.4" rx="2.50" ry="2.20" transform="rotate(-20 602.3 91.4)" fill="#ff2a2a" opacity="0.81" filter="url(#bl05)"/>
<ellipse cx="607.4" cy="89" rx="1.80" ry="1.60" transform="rotate(0 607.4 89)" fill="#ff2a2a" opacity="0.77" filter="url(#bl05)"/>
<ellipse cx="594.8" cy="87.2" rx="2.00" ry="1.80" transform="rotate(0 594.8 87.2)" fill="#ff2a2a" opacity="0.55" filter="url(#bl05)"/>
<ellipse cx="635.9" cy="85.3" rx="2.40" ry="2.60" transform="rotate(0 635.9 85.3)" fill="#ff2a2a" opacity="1.00" filter="url(#bl05)"/>
<ellipse cx="637.8" cy="92.6" rx="4.20" ry="3.40" transform="rotate(35 637.8 92.6)" fill="#ff2a2a" opacity="1.00" filter="url(#bl05)"/>
<ellipse cx="641" cy="95.5" rx="2.40" ry="2.00" transform="rotate(0 641 95.5)" fill="#ff2a2a" opacity="1.00" filter="url(#bl05)"/>
<ellipse cx="643.4" cy="106.3" rx="3.20" ry="1.90" transform="rotate(-25 643.4 106.3)" fill="#ff2a2a" opacity="1.00" filter="url(#bl05)"/>
<ellipse cx="640.6" cy="110.5" rx="1.40" ry="1.60" transform="rotate(0 640.6 110.5)" fill="#ff2a2a" opacity="0.85" filter="url(#bl05)"/>
<ellipse cx="652.7" cy="104" rx="1.80" ry="2.40" transform="rotate(0 652.7 104)" fill="#ff2a2a" opacity="0.77" filter="url(#bl05)"/>
<ellipse cx="600.9" cy="116" rx="1.60" ry="1.40" transform="rotate(0 600.9 116)" fill="#ff2a2a" opacity="0.70" filter="url(#bl05)"/>
<ellipse cx="614.9" cy="116" rx="1.40" ry="1.20" transform="rotate(0 614.9 116)" fill="#ff2a2a" opacity="0.62" filter="url(#bl05)"/>
<ellipse cx="545" cy="70" rx="1.40" ry="1.40" transform="rotate(0 545 70)" fill="#ff2a2a" opacity="0.51" filter="url(#bl05)"/>
<ellipse cx="540" cy="46" rx="1.30" ry="1.60" transform="rotate(0 540 46)" fill="#ff2a2a" opacity="0.51" filter="url(#bl05)"/>
<ellipse cx="596" cy="74" rx="1.30" ry="1.30" transform="rotate(0 596 74)" fill="#ff2a2a" opacity="0.51" filter="url(#bl05)"/>
<ellipse cx="622" cy="64" rx="1.20" ry="1.20" transform="rotate(0 622 64)" fill="#ff2a2a" opacity="0.47" filter="url(#bl05)"/>
<ellipse cx="587" cy="62" rx="1.30" ry="1.30" transform="rotate(0 587 62)" fill="#ff2a2a" opacity="0.51" filter="url(#bl05)"/>
<ellipse cx="551" cy="92" rx="1.30" ry="1.30" transform="rotate(0 551 92)" fill="#ff2a2a" opacity="0.47" filter="url(#bl05)"/>
<ellipse cx="612" cy="100" rx="1.20" ry="1.20" transform="rotate(0 612 100)" fill="#ff2a2a" opacity="0.47" filter="url(#bl05)"/>
<circle cx="545.4" cy="61.3" r="4.0" fill="#e02626" fill-opacity="0.9" stroke="#161010" stroke-width="0.55" stroke-opacity="0.8"/>
<circle cx="545.0" cy="61.0" r="2.20" fill="#ff3a3a" opacity="0.55" filter="url(#bl05)"/>
<circle cx="601.8" cy="51" r="4.1" fill="#ee2a2a" fill-opacity="0.95" stroke="#161010" stroke-width="0.55" stroke-opacity="0.8"/>
<circle cx="601.4" cy="50.7" r="2.25" fill="#ff3a3a" opacity="0.55" filter="url(#bl05)"/>
<circle cx="573.9" cy="77.8" r="3.0" fill="#c03030" fill-opacity="0.8" stroke="#161010" stroke-width="0.55" stroke-opacity="0.8"/>
<circle cx="573.5" cy="77.5" r="1.65" fill="#ff3a3a" opacity="0.55" filter="url(#bl05)"/>
<circle cx="612.6" cy="79.2" r="3.5" fill="#e02828" fill-opacity="0.9" stroke="#161010" stroke-width="0.55" stroke-opacity="0.8"/>
<circle cx="612.2" cy="78.9" r="1.93" fill="#ff3a3a" opacity="0.55" filter="url(#bl05)"/>
<circle cx="594.3" cy="80.6" r="3.3" fill="#9a3434" fill-opacity="0.75" stroke="#161010" stroke-width="0.55" stroke-opacity="0.8"/>
<circle cx="593.9" cy="80.3" r="1.81" fill="#ff3a3a" opacity="0.55" filter="url(#bl05)"/>
<circle cx="533.7" cy="93.2" r="3.0" fill="#c03030" fill-opacity="0.8" stroke="#161010" stroke-width="0.55" stroke-opacity="0.8"/>
<circle cx="533.3000000000001" cy="92.9" r="1.65" fill="#ff3a3a" opacity="0.55" filter="url(#bl05)"/>
<circle cx="550.6" cy="65" r="1.7" fill="#6a6262" stroke="#141010" stroke-width="0.6"/>
<circle cx="581.9" cy="85.3" r="2.5" fill="#6a6262" stroke="#141010" stroke-width="0.6"/>
<circle cx="615.4" cy="47.2" r="2.3" fill="#6a6262" stroke="#141010" stroke-width="0.6"/>
<circle cx="545.9" cy="100.7" r="0.9" fill="#2a2222"/>
</g>
<rect x="651.20" y="25.00" width="2.60" height="23.50" fill="url(#gred)" /><rect x="651.20" y="51.00" width="2.60" height="23.50" fill="url(#ggray)" /><text x="650.6" y="27.4" font-size="2.6" text-anchor="end" fill="#eee" >3000</text><text x="650.6" y="48.2" font-size="2.6" text-anchor="end" fill="#eee" >300</text><text x="650.6" y="53.4" font-size="2.6" text-anchor="end" fill="#eee" >3000</text><text x="650.6" y="74.2" font-size="2.6" text-anchor="end" fill="#eee" >500</text>
<rect x="618.00" y="108.00" width="31.20" height="2.40" fill="#fff" />
<rect x="659.90" y="22.90" width="25.10" height="93.60" fill="url(#gcb)" />
<rect x="678.00" y="26.40" width="5.60" height="41.60" fill="url(#gred)" stroke="#777" stroke-width="0.4" />
<rect x="678.00" y="71.60" width="5.60" height="42.40" fill="url(#ggray)" stroke="#999" stroke-width="0.4" />
<text x="677.4" y="31.8" font-size="6.1" text-anchor="end" fill="#dcdcdc" >3000</text>
<text x="677.4" y="67.4" font-size="6.1" text-anchor="end" fill="#dcdcdc" >300</text>
<text x="677.4" y="77.6" font-size="6.1" text-anchor="end" fill="#dcdcdc" >3000</text>
<text x="677.4" y="113.4" font-size="6.1" text-anchor="end" fill="#dcdcdc" >500</text>
</g>
<g id="panel_c">
<text x="-0.5" y="162.9" font-size="14.5" fill="#000" font-weight="bold" >c</text>
<text x="80.5" y="175.4" font-size="11.3" fill="#1a1a1a" xml:space="preserve" style="white-space:pre">Whole  lysate lipid composition</text>
<text x="10.4" y="278.3" font-size="10.35" fill="#111" transform="rotate(-90 10.4 278.3)" >Foldchange</text>
<text font-size="10.3" fill="#1a1a1a" transform="translate(21.0 304.0) rotate(-90)">relative to control<tspan font-size="7.8" dy="3">median</tspan></text>
<line x1="52.5" y1="191" x2="52.5" y2="318" stroke="#1a1a1a" stroke-width="1" />
<line x1="52" y1="317.4" x2="261.5" y2="317.4" stroke="#1a1a1a" stroke-width="1" />
<line x1="49.8" y1="191.8" x2="52.6" y2="191.8" stroke="#1a1a1a" stroke-width="1" />
<text x="45.1" y="195.3" font-size="10.3" text-anchor="end" fill="#111" >2.0</text>
<line x1="49.8" y1="223.1" x2="52.6" y2="223.1" stroke="#1a1a1a" stroke-width="1" />
<text x="45.1" y="226.6" font-size="10.3" text-anchor="end" fill="#111" >1.5</text>
<line x1="49.8" y1="254.4" x2="52.6" y2="254.4" stroke="#1a1a1a" stroke-width="1" />
<text x="45.1" y="257.9" font-size="10.3" text-anchor="end" fill="#111" >1.0</text>
<line x1="49.8" y1="285.7" x2="52.6" y2="285.7" stroke="#1a1a1a" stroke-width="1" />
<text x="45.1" y="289.2" font-size="10.3" text-anchor="end" fill="#111" >0.5</text>
<line x1="49.8" y1="317.0" x2="52.6" y2="317.0" stroke="#1a1a1a" stroke-width="1" />
<text x="45.1" y="320.5" font-size="10.3" text-anchor="end" fill="#111" >0.0</text>
<line x1="86.6" y1="317.4" x2="86.6" y2="320.4" stroke="#1a1a1a" stroke-width="1" />
<line x1="157.3" y1="317.4" x2="157.3" y2="320.4" stroke="#1a1a1a" stroke-width="1" />
<line x1="227.4" y1="317.4" x2="227.4" y2="320.4" stroke="#1a1a1a" stroke-width="1" />
<rect x="54.80" y="244.38" width="4.00" height="72.62" fill="#fff" stroke="#222" stroke-width="0.55" />
<rect x="61.46" y="231.24" width="4.00" height="85.76" fill="#fff" stroke="#222" stroke-width="0.55" />
<rect x="68.12" y="238.12" width="4.00" height="78.88" fill="#fff" stroke="#222" stroke-width="0.55" />
<rect x="74.78" y="218.72" width="4.00" height="98.28" fill="#fff" stroke="#222" stroke-width="0.55" />
<rect x="81.44" y="238.12" width="4.00" height="78.88" fill="#fff" stroke="#222" stroke-width="0.55" />
<rect x="88.10" y="243.76" width="4.00" height="73.24" fill="#fff" stroke="#222" stroke-width="0.55" />
<rect x="94.76" y="233.74" width="4.00" height="83.26" fill="#fff" stroke="#222" stroke-width="0.55" />
<rect x="101.42" y="243.13" width="4.00" height="73.87" fill="#fff" stroke="#222" stroke-width="0.55" />
<rect x="108.08" y="241.88" width="4.00" height="75.12" fill="#fff" stroke="#222" stroke-width="0.55" />
<rect x="114.74" y="237.50" width="4.00" height="79.50" fill="#fff" stroke="#222" stroke-width="0.55" />
<rect x="126.70" y="259.41" width="4.00" height="57.59" fill="#fff" stroke="#222" stroke-width="0.55" />
<rect x="133.20" y="263.16" width="4.00" height="53.84" fill="#fff" stroke="#222" stroke-width="0.55" />
<rect x="139.70" y="238.75" width="4.00" height="78.25" fill="#fff" stroke="#222" stroke-width="0.55" />
<rect x="146.20" y="268.80" width="4.00" height="48.20" fill="#fff" stroke="#222" stroke-width="0.55" />
<rect x="152.70" y="266.92" width="4.00" height="50.08" fill="#fff" stroke="#222" stroke-width="0.55" />
<rect x="159.20" y="260.66" width="4.00" height="56.34" fill="#fff" stroke="#222" stroke-width="0.55" />
<rect x="165.70" y="260.66" width="4.00" height="56.34" fill="#fff" stroke="#222" stroke-width="0.55" />
<rect x="172.20" y="260.03" width="4.00" height="56.97" fill="#fff" stroke="#222" stroke-width="0.55" />
<rect x="178.70" y="259.41" width="4.00" height="57.59" fill="#fff" stroke="#222" stroke-width="0.55" />
<rect x="185.20" y="262.54" width="4.00" height="54.46" fill="#fff" stroke="#222" stroke-width="0.55" />
<rect x="196.70" y="260.03" width="4.00" height="56.97" fill="#fff" stroke="#222" stroke-width="0.55" />
<rect x="203.28" y="258.78" width="4.00" height="58.22" fill="#fff" stroke="#222" stroke-width="0.55" />
<rect x="209.86" y="259.41" width="4.00" height="57.59" fill="#fff" stroke="#222" stroke-width="0.55" />
<rect x="216.44" y="271.30" width="4.00" height="45.70" fill="#fff" stroke="#222" stroke-width="0.55" />
<rect x="223.02" y="268.80" width="4.00" height="48.20" fill="#fff" stroke="#222" stroke-width="0.55" />
<rect x="229.60" y="265.67" width="4.00" height="51.33" fill="#fff" stroke="#222" stroke-width="0.55" />
<rect x="236.18" y="290.71" width="4.00" height="26.29" fill="#fff" stroke="#222" stroke-width="0.55" />
<rect x="242.76" y="262.54" width="4.00" height="54.46" fill="#fff" stroke="#222" stroke-width="0.55" />
<rect x="249.34" y="268.80" width="4.00" height="48.20" fill="#fff" stroke="#222" stroke-width="0.55" />
<rect x="255.92" y="241.88" width="4.00" height="75.12" fill="#fff" stroke="#222" stroke-width="0.55" />
<line x1="52.6" y1="254.4" x2="268" y2="254.4" stroke="#333" stroke-width="0.7" stroke-dasharray="1.2 1.4"/>
<circle cx="56.10" cy="246.26" r="2.12" fill="#f80000" stroke="#2a1000" stroke-width="0.45"/>
<circle cx="56.80" cy="244.38" r="2.12" fill="#f80000" stroke="#2a1000" stroke-width="0.45"/>
<circle cx="57.50" cy="241.88" r="2.12" fill="#f80000" stroke="#2a1000" stroke-width="0.45"/>
<rect x="60.76" y="231.74" width="4.00" height="4.00" fill="#f80000" stroke="#2a1000" stroke-width="0.45"/>
<rect x="61.46" y="231.12" width="4.00" height="4.00" fill="#f80000" stroke="#2a1000" stroke-width="0.45"/>
<rect x="62.16" y="224.23" width="4.00" height="4.00" fill="#f80000" stroke="#2a1000" stroke-width="0.45"/>
<path d="M69.42 236.40 L71.77 240.63 L67.07 240.63 Z" fill="#f80000" stroke="#2a1000" stroke-width="0.45"/>
<path d="M70.12 235.15 L72.47 239.38 L67.77 239.38 Z" fill="#f80000" stroke="#2a1000" stroke-width="0.45"/>
<path d="M70.82 234.52 L73.17 238.75 L68.47 238.75 Z" fill="#f80000" stroke="#2a1000" stroke-width="0.45"/>
<path d="M76.08 221.69 L78.43 217.46 L73.73 217.46 Z" fill="#cc0000" stroke="#2a1000" stroke-width="0.45"/>
<path d="M76.78 220.44 L79.13 216.21 L74.43 216.21 Z" fill="#cc0000" stroke="#2a1000" stroke-width="0.45"/>
<path d="M77.48 219.19 L79.83 214.96 L75.13 214.96 Z" fill="#cc0000" stroke="#2a1000" stroke-width="0.45"/>
<path d="M82.74 238.42 L84.95 240.63 L82.74 242.84 L80.53 240.63 Z" fill="#ff6a00" stroke="#2a1000" stroke-width="0.45"/>
<path d="M83.44 235.91 L85.65 238.12 L83.44 240.33 L81.23 238.12 Z" fill="#ff6a00" stroke="#2a1000" stroke-width="0.45"/>
<path d="M84.14 232.16 L86.35 234.37 L84.14 236.58 L81.93 234.37 Z" fill="#ff6a00" stroke="#2a1000" stroke-width="0.45"/>
<circle cx="89.40" cy="248.14" r="2.12" fill="#ff6a00" stroke="#2a1000" stroke-width="0.45"/>
<circle cx="90.10" cy="243.76" r="2.12" fill="#ff6a00" stroke="#2a1000" stroke-width="0.45"/>
<circle cx="90.80" cy="240.63" r="2.12" fill="#ff6a00" stroke="#2a1000" stroke-width="0.45"/>
<rect x="94.06" y="236.75" width="4.00" height="4.00" fill="#ff6a00" stroke="#2a1000" stroke-width="0.45"/>
<rect x="94.76" y="231.74" width="4.00" height="4.00" fill="#ff6a00" stroke="#2a1000" stroke-width="0.45"/>
<rect x="95.46" y="226.74" width="4.00" height="4.00" fill="#ff6a00" stroke="#2a1000" stroke-width="0.45"/>
<path d="M102.72 242.66 L105.07 246.89 L100.37 246.89 Z" fill="#0000f8" stroke="#2a1000" stroke-width="0.45"/>
<path d="M103.42 240.78 L105.77 245.01 L101.07 245.01 Z" fill="#0000f8" stroke="#2a1000" stroke-width="0.45"/>
<path d="M104.12 238.90 L106.47 243.13 L101.77 243.13 Z" fill="#0000f8" stroke="#2a1000" stroke-width="0.45"/>
<path d="M109.38 247.36 L111.73 243.13 L107.03 243.13 Z" fill="#0000f8" stroke="#2a1000" stroke-width="0.45"/>
<path d="M110.08 244.23 L112.43 240.00 L107.73 240.00 Z" fill="#0000f8" stroke="#2a1000" stroke-width="0.45"/>
<path d="M110.78 240.47 L113.13 236.24 L108.43 236.24 Z" fill="#0000f8" stroke="#2a1000" stroke-width="0.45"/>
<path d="M116.04 244.30 L118.62 246.89 L116.04 249.47 L113.45 246.89 Z" fill="#0000f8" stroke="#2a1000" stroke-width="0.45"/>
<path d="M116.74 233.03 L119.32 235.62 L116.74 238.21 L114.16 235.62 Z" fill="#0000f8" stroke="#2a1000" stroke-width="0.45"/>
<path d="M117.44 228.03 L120.02 230.61 L117.44 233.20 L114.86 230.61 Z" fill="#0000f8" stroke="#2a1000" stroke-width="0.45"/>
<circle cx="128.00" cy="262.54" r="2.12" fill="#f80000" stroke="#2a1000" stroke-width="0.45"/>
<circle cx="128.70" cy="259.41" r="2.12" fill="#f80000" stroke="#2a1000" stroke-width="0.45"/>
<circle cx="129.40" cy="256.28" r="2.12" fill="#f80000" stroke="#2a1000" stroke-width="0.45"/>
<rect x="132.50" y="269.93" width="4.00" height="4.00" fill="#f80000" stroke="#2a1000" stroke-width="0.45"/>
<rect x="133.20" y="258.66" width="4.00" height="4.00" fill="#f80000" stroke="#2a1000" stroke-width="0.45"/>
<rect x="133.90" y="255.53" width="4.00" height="4.00" fill="#f80000" stroke="#2a1000" stroke-width="0.45"/>
<path d="M141.00 244.54 L143.35 248.77 L138.65 248.77 Z" fill="#f80000" stroke="#2a1000" stroke-width="0.45"/>
<path d="M141.70 234.52 L144.05 238.75 L139.35 238.75 Z" fill="#f80000" stroke="#2a1000" stroke-width="0.45"/>
<path d="M142.40 232.02 L144.75 236.25 L140.05 236.25 Z" fill="#f80000" stroke="#2a1000" stroke-width="0.45"/>
<path d="M147.50 281.79 L149.85 277.56 L145.15 277.56 Z" fill="#cc0000" stroke="#2a1000" stroke-width="0.45"/>
<path d="M148.20 267.39 L150.55 263.16 L145.85 263.16 Z" fill="#cc0000" stroke="#2a1000" stroke-width="0.45"/>
<path d="M148.90 263.01 L151.25 258.78 L146.55 258.78 Z" fill="#cc0000" stroke="#2a1000" stroke-width="0.45"/>
<path d="M154.00 267.84 L156.21 270.05 L154.00 272.26 L151.79 270.05 Z" fill="#ff6a00" stroke="#2a1000" stroke-width="0.45"/>
<path d="M154.70 264.71 L156.91 266.92 L154.70 269.13 L152.49 266.92 Z" fill="#ff6a00" stroke="#2a1000" stroke-width="0.45"/>
<path d="M155.40 260.95 L157.61 263.16 L155.40 265.37 L153.19 263.16 Z" fill="#ff6a00" stroke="#2a1000" stroke-width="0.45"/>
<circle cx="160.50" cy="263.79" r="2.12" fill="#ff6a00" stroke="#2a1000" stroke-width="0.45"/>
<circle cx="161.20" cy="260.66" r="2.12" fill="#ff6a00" stroke="#2a1000" stroke-width="0.45"/>
<circle cx="161.90" cy="257.53" r="2.12" fill="#ff6a00" stroke="#2a1000" stroke-width="0.45"/>
<rect x="165.00" y="263.67" width="4.00" height="4.00" fill="#ff6a00" stroke="#2a1000" stroke-width="0.45"/>
<rect x="165.70" y="258.66" width="4.00" height="4.00" fill="#ff6a00" stroke="#2a1000" stroke-width="0.45"/>
<rect x="166.40" y="252.40" width="4.00" height="4.00" fill="#ff6a00" stroke="#2a1000" stroke-width="0.45"/>
<path d="M173.50 258.94 L175.85 263.17 L171.15 263.17 Z" fill="#0000f8" stroke="#2a1000" stroke-width="0.45"/>
<path d="M174.20 257.68 L176.55 261.91 L171.85 261.91 Z" fill="#0000f8" stroke="#2a1000" stroke-width="0.45"/>
<path d="M174.90 255.81 L177.25 260.04 L172.55 260.04 Z" fill="#0000f8" stroke="#2a1000" stroke-width="0.45"/>
<path d="M180.00 264.26 L182.35 260.03 L177.65 260.03 Z" fill="#0000f8" stroke="#2a1000" stroke-width="0.45"/>
<path d="M180.70 261.76 L183.05 257.53 L178.35 257.53 Z" fill="#0000f8" stroke="#2a1000" stroke-width="0.45"/>
<path d="M181.40 259.25 L183.75 255.02 L179.05 255.02 Z" fill="#0000f8" stroke="#2a1000" stroke-width="0.45"/>
<path d="M186.50 274.98 L189.09 277.56 L186.50 280.15 L183.91 277.56 Z" fill="#0000f8" stroke="#2a1000" stroke-width="0.45"/>
<path d="M187.20 253.69 L189.78 256.28 L187.20 258.86 L184.61 256.28 Z" fill="#0000f8" stroke="#2a1000" stroke-width="0.45"/>
<path d="M187.90 252.44 L190.48 255.03 L187.90 257.61 L185.31 255.03 Z" fill="#0000f8" stroke="#2a1000" stroke-width="0.45"/>
<circle cx="198.00" cy="262.54" r="2.12" fill="#f80000" stroke="#2a1000" stroke-width="0.45"/>
<circle cx="198.70" cy="260.03" r="2.12" fill="#f80000" stroke="#2a1000" stroke-width="0.45"/>
<circle cx="199.40" cy="256.90" r="2.12" fill="#f80000" stroke="#2a1000" stroke-width="0.45"/>
<rect x="202.58" y="258.66" width="4.00" height="4.00" fill="#f80000" stroke="#2a1000" stroke-width="0.45"/>
<rect x="203.28" y="256.78" width="4.00" height="4.00" fill="#f80000" stroke="#2a1000" stroke-width="0.45"/>
<rect x="203.98" y="254.91" width="4.00" height="4.00" fill="#f80000" stroke="#2a1000" stroke-width="0.45"/>
<path d="M211.16 258.31 L213.51 262.54 L208.81 262.54 Z" fill="#f80000" stroke="#2a1000" stroke-width="0.45"/>
<path d="M211.86 256.43 L214.21 260.66 L209.51 260.66 Z" fill="#f80000" stroke="#2a1000" stroke-width="0.45"/>
<path d="M212.56 255.81 L214.91 260.04 L210.21 260.04 Z" fill="#f80000" stroke="#2a1000" stroke-width="0.45"/>
<path d="M217.74 274.28 L220.09 270.05 L215.39 270.05 Z" fill="#cc0000" stroke="#2a1000" stroke-width="0.45"/>
<path d="M218.44 273.65 L220.79 269.42 L216.09 269.42 Z" fill="#cc0000" stroke="#2a1000" stroke-width="0.45"/>
<path d="M219.14 273.03 L221.49 268.80 L216.79 268.80 Z" fill="#cc0000" stroke="#2a1000" stroke-width="0.45"/>
<path d="M224.32 268.47 L226.53 270.68 L224.32 272.89 L222.11 270.68 Z" fill="#ff6a00" stroke="#2a1000" stroke-width="0.45"/>
<path d="M225.02 266.59 L227.23 268.80 L225.02 271.01 L222.81 268.80 Z" fill="#ff6a00" stroke="#2a1000" stroke-width="0.45"/>
<path d="M225.72 264.08 L227.93 266.29 L225.72 268.50 L223.51 266.29 Z" fill="#ff6a00" stroke="#2a1000" stroke-width="0.45"/>
<circle cx="230.90" cy="266.29" r="2.12" fill="#ff6a00" stroke="#2a1000" stroke-width="0.45"/>
<circle cx="231.60" cy="265.67" r="2.12" fill="#ff6a00" stroke="#2a1000" stroke-width="0.45"/>
<circle cx="232.30" cy="265.04" r="2.12" fill="#ff6a00" stroke="#2a1000" stroke-width="0.45"/>
<rect x="235.48" y="289.34" width="4.00" height="4.00" fill="#ff6a00" stroke="#2a1000" stroke-width="0.45"/>
<rect x="236.18" y="288.71" width="4.00" height="4.00" fill="#ff6a00" stroke="#2a1000" stroke-width="0.45"/>
<rect x="236.88" y="288.08" width="4.00" height="4.00" fill="#ff6a00" stroke="#2a1000" stroke-width="0.45"/>
<path d="M244.06 261.44 L246.41 265.67 L241.71 265.67 Z" fill="#0000f8" stroke="#2a1000" stroke-width="0.45"/>
<path d="M244.76 260.19 L247.11 264.42 L242.41 264.42 Z" fill="#0000f8" stroke="#2a1000" stroke-width="0.45"/>
<path d="M245.46 258.31 L247.81 262.54 L243.11 262.54 Z" fill="#0000f8" stroke="#2a1000" stroke-width="0.45"/>
<path d="M250.64 272.40 L252.99 268.17 L248.29 268.17 Z" fill="#0000f8" stroke="#2a1000" stroke-width="0.45"/>
<path d="M251.34 271.15 L253.69 266.92 L248.99 266.92 Z" fill="#0000f8" stroke="#2a1000" stroke-width="0.45"/>
<path d="M252.04 269.27 L254.39 265.04 L249.69 265.04 Z" fill="#0000f8" stroke="#2a1000" stroke-width="0.45"/>
<path d="M257.22 245.55 L259.80 248.14 L257.22 250.72 L254.63 248.14 Z" fill="#0000f8" stroke="#2a1000" stroke-width="0.45"/>
<path d="M257.92 239.29 L260.50 241.88 L257.92 244.47 L255.33 241.88 Z" fill="#0000f8" stroke="#2a1000" stroke-width="0.45"/>
<path d="M258.62 234.29 L261.20 236.87 L258.62 239.46 L256.03 236.87 Z" fill="#0000f8" stroke="#2a1000" stroke-width="0.45"/>
<line x1="56.8" y1="242.506" x2="56.8" y2="246.262" stroke="#000" stroke-width="0.8" />
<line x1="55.3" y1="242.506" x2="58.3" y2="242.506" stroke="#000" stroke-width="0.8" />
<line x1="55.3" y1="246.262" x2="58.3" y2="246.262" stroke="#000" stroke-width="0.8" />
<line x1="63.459999999999994" y1="226.856" x2="63.459999999999994" y2="235.62" stroke="#000" stroke-width="0.8" />
<line x1="61.959999999999994" y1="226.856" x2="64.96" y2="226.856" stroke="#000" stroke-width="0.8" />
<line x1="61.959999999999994" y1="235.62" x2="64.96" y2="235.62" stroke="#000" stroke-width="0.8" />
<line x1="83.44" y1="234.994" x2="83.44" y2="241.25400000000002" stroke="#000" stroke-width="0.8" />
<line x1="81.94" y1="234.994" x2="84.94" y2="234.994" stroke="#000" stroke-width="0.8" />
<line x1="81.94" y1="241.25400000000002" x2="84.94" y2="241.25400000000002" stroke="#000" stroke-width="0.8" />
<line x1="90.1" y1="240.62800000000001" x2="90.1" y2="246.888" stroke="#000" stroke-width="0.8" />
<line x1="88.6" y1="240.62800000000001" x2="91.6" y2="240.62800000000001" stroke="#000" stroke-width="0.8" />
<line x1="88.6" y1="246.888" x2="91.6" y2="246.888" stroke="#000" stroke-width="0.8" />
<line x1="96.75999999999999" y1="228.73399999999998" x2="96.75999999999999" y2="238.75" stroke="#000" stroke-width="0.8" />
<line x1="95.25999999999999" y1="228.73399999999998" x2="98.25999999999999" y2="228.73399999999998" stroke="#000" stroke-width="0.8" />
<line x1="95.25999999999999" y1="238.75" x2="98.25999999999999" y2="238.75" stroke="#000" stroke-width="0.8" />
<line x1="103.42" y1="241.25400000000002" x2="103.42" y2="245.01000000000002" stroke="#000" stroke-width="0.8" />
<line x1="101.92" y1="241.25400000000002" x2="104.92" y2="241.25400000000002" stroke="#000" stroke-width="0.8" />
<line x1="101.92" y1="245.01000000000002" x2="104.92" y2="245.01000000000002" stroke="#000" stroke-width="0.8" />
<line x1="110.08" y1="238.75" x2="110.08" y2="245.01000000000002" stroke="#000" stroke-width="0.8" />
<line x1="108.58" y1="238.75" x2="111.58" y2="238.75" stroke="#000" stroke-width="0.8" />
<line x1="108.58" y1="245.01000000000002" x2="111.58" y2="245.01000000000002" stroke="#000" stroke-width="0.8" />
<line x1="116.74" y1="229.986" x2="116.74" y2="245.01000000000002" stroke="#000" stroke-width="0.8" />
<line x1="115.24" y1="229.986" x2="118.24" y2="229.986" stroke="#000" stroke-width="0.8" />
<line x1="115.24" y1="245.01000000000002" x2="118.24" y2="245.01000000000002" stroke="#000" stroke-width="0.8" />
<line x1="128.7" y1="256.278" x2="128.7" y2="262.538" stroke="#000" stroke-width="0.8" />
<line x1="127.19999999999999" y1="256.278" x2="130.2" y2="256.278" stroke="#000" stroke-width="0.8" />
<line x1="127.19999999999999" y1="262.538" x2="130.2" y2="262.538" stroke="#000" stroke-width="0.8" />
<line x1="135.2" y1="256.904" x2="135.2" y2="269.424" stroke="#000" stroke-width="0.8" />
<line x1="133.7" y1="256.904" x2="136.7" y2="256.904" stroke="#000" stroke-width="0.8" />
<line x1="133.7" y1="269.424" x2="136.7" y2="269.424" stroke="#000" stroke-width="0.8" />
<line x1="141.7" y1="232.49" x2="141.7" y2="245.01000000000002" stroke="#000" stroke-width="0.8" />
<line x1="140.2" y1="232.49" x2="143.2" y2="232.49" stroke="#000" stroke-width="0.8" />
<line x1="140.2" y1="245.01000000000002" x2="143.2" y2="245.01000000000002" stroke="#000" stroke-width="0.8" />
<line x1="148.2" y1="260.034" x2="148.2" y2="277.562" stroke="#000" stroke-width="0.8" />
<line x1="146.7" y1="260.034" x2="149.7" y2="260.034" stroke="#000" stroke-width="0.8" />
<line x1="146.7" y1="277.562" x2="149.7" y2="277.562" stroke="#000" stroke-width="0.8" />
<line x1="154.7" y1="263.79" x2="154.7" y2="270.05" stroke="#000" stroke-width="0.8" />
<line x1="153.2" y1="263.79" x2="156.2" y2="263.79" stroke="#000" stroke-width="0.8" />
<line x1="153.2" y1="270.05" x2="156.2" y2="270.05" stroke="#000" stroke-width="0.8" />
<line x1="161.2" y1="257.53000000000003" x2="161.2" y2="263.79" stroke="#000" stroke-width="0.8" />
<line x1="159.7" y1="257.53000000000003" x2="162.7" y2="257.53000000000003" stroke="#000" stroke-width="0.8" />
<line x1="159.7" y1="263.79" x2="162.7" y2="263.79" stroke="#000" stroke-width="0.8" />
<line x1="167.7" y1="255.65200000000002" x2="167.7" y2="265.668" stroke="#000" stroke-width="0.8" />
<line x1="166.2" y1="255.65200000000002" x2="169.2" y2="255.65200000000002" stroke="#000" stroke-width="0.8" />
<line x1="166.2" y1="265.668" x2="169.2" y2="265.668" stroke="#000" stroke-width="0.8" />
<line x1="174.2" y1="258.156" x2="174.2" y2="261.912" stroke="#000" stroke-width="0.8" />
<line x1="172.7" y1="258.156" x2="175.7" y2="258.156" stroke="#000" stroke-width="0.8" />
<line x1="172.7" y1="261.912" x2="175.7" y2="261.912" stroke="#000" stroke-width="0.8" />
<line x1="180.7" y1="256.904" x2="180.7" y2="261.912" stroke="#000" stroke-width="0.8" />
<line x1="179.2" y1="256.904" x2="182.2" y2="256.904" stroke="#000" stroke-width="0.8" />
<line x1="179.2" y1="261.912" x2="182.2" y2="261.912" stroke="#000" stroke-width="0.8" />
<line x1="187.2" y1="251.27" x2="187.2" y2="273.806" stroke="#000" stroke-width="0.8" />
<line x1="185.7" y1="251.27" x2="188.7" y2="251.27" stroke="#000" stroke-width="0.8" />
<line x1="185.7" y1="273.806" x2="188.7" y2="273.806" stroke="#000" stroke-width="0.8" />
<line x1="198.7" y1="257.53000000000003" x2="198.7" y2="262.538" stroke="#000" stroke-width="0.8" />
<line x1="197.2" y1="257.53000000000003" x2="200.2" y2="257.53000000000003" stroke="#000" stroke-width="0.8" />
<line x1="197.2" y1="262.538" x2="200.2" y2="262.538" stroke="#000" stroke-width="0.8" />
<line x1="205.28" y1="256.904" x2="205.28" y2="260.66" stroke="#000" stroke-width="0.8" />
<line x1="203.78" y1="256.904" x2="206.78" y2="256.904" stroke="#000" stroke-width="0.8" />
<line x1="203.78" y1="260.66" x2="206.78" y2="260.66" stroke="#000" stroke-width="0.8" />
<line x1="211.85999999999999" y1="257.53000000000003" x2="211.85999999999999" y2="261.286" stroke="#000" stroke-width="0.8" />
<line x1="210.35999999999999" y1="257.53000000000003" x2="213.35999999999999" y2="257.53000000000003" stroke="#000" stroke-width="0.8" />
<line x1="210.35999999999999" y1="261.286" x2="213.35999999999999" y2="261.286" stroke="#000" stroke-width="0.8" />
<line x1="225.01999999999998" y1="266.294" x2="225.01999999999998" y2="271.302" stroke="#000" stroke-width="0.8" />
<line x1="223.51999999999998" y1="266.294" x2="226.51999999999998" y2="266.294" stroke="#000" stroke-width="0.8" />
<line x1="223.51999999999998" y1="271.302" x2="226.51999999999998" y2="271.302" stroke="#000" stroke-width="0.8" />
<line x1="244.76" y1="260.66" x2="244.76" y2="264.416" stroke="#000" stroke-width="0.8" />
<line x1="243.26" y1="260.66" x2="246.26" y2="260.66" stroke="#000" stroke-width="0.8" />
<line x1="243.26" y1="264.416" x2="246.26" y2="264.416" stroke="#000" stroke-width="0.8" />
<line x1="251.33999999999997" y1="266.92" x2="251.33999999999997" y2="270.676" stroke="#000" stroke-width="0.8" />
<line x1="249.83999999999997" y1="266.92" x2="252.83999999999997" y2="266.92" stroke="#000" stroke-width="0.8" />
<line x1="249.83999999999997" y1="270.676" x2="252.83999999999997" y2="270.676" stroke="#000" stroke-width="0.8" />
<line x1="257.91999999999996" y1="236.872" x2="257.91999999999996" y2="246.888" stroke="#000" stroke-width="0.8" />
<line x1="256.41999999999996" y1="236.872" x2="259.41999999999996" y2="236.872" stroke="#000" stroke-width="0.8" />
<line x1="256.41999999999996" y1="246.888" x2="259.41999999999996" y2="246.888" stroke="#000" stroke-width="0.8" />
<text font-size="6.7" font-style="italic" fill="#222" transform="translate(61.0 209.5) rotate(-90)">P: 0.005</text>
<text font-size="6.7" font-style="italic" fill="#222" transform="translate(67.7 209.5) rotate(-90)">P: 0.005</text>
<text font-size="6.7" font-style="italic" fill="#222" transform="translate(74.3 209.5) rotate(-90)">P: 0.005</text>
<text font-size="6.7" font-style="italic" fill="#222" transform="translate(81.0 209.5) rotate(-90)">P: 0.028</text>
<text font-size="6.7" font-style="italic" fill="#222" transform="translate(87.6 209.5) rotate(-90)">P: 0.007</text>
<text font-size="6.7" font-style="italic" fill="#222" transform="translate(94.3 209.5) rotate(-90)">P: 0.007</text>
<text font-size="6.7" font-style="italic" fill="#222" transform="translate(101.0 209.5) rotate(-90)">P: 0.018</text>
<text font-size="6.7" font-style="italic" fill="#222" transform="translate(107.6 209.5) rotate(-90)">P: 0.003</text>
<text font-size="6.7" font-style="italic" fill="#222" transform="translate(114.3 209.5) rotate(-90)">P: 0.005</text>
<text font-size="6.7" font-style="italic" fill="#222" transform="translate(120.9 209.5) rotate(-90)">P: 0.031</text>
<text font-size="6.7" font-style="italic" fill="#222" transform="translate(132.0 252.0) rotate(-90)">P: 0.022</text>
<text font-size="6.7" font-style="italic" fill="#222" transform="translate(145.0 229.0) rotate(-90)">P: 0.010</text>
<text font-size="6.7" font-style="italic" fill="#222" transform="translate(158.0 252.0) rotate(-90)">P: 0.020</text>
<text font-size="6.7" font-style="italic" fill="#222" transform="translate(177.5 252.0) rotate(-90)">P: 0.021</text>
<text font-size="6.7" font-style="italic" fill="#222" transform="translate(201.5 252.0) rotate(-90)">P: 0.008</text>
<text font-size="6.7" font-style="italic" fill="#222" transform="translate(221.2 252.0) rotate(-90)">P: 0.035</text>
<text font-size="6.7" font-style="italic" fill="#222" transform="translate(227.8 252.0) rotate(-90)">P: 0.010</text>
<text font-size="6.7" font-style="italic" fill="#222" transform="translate(234.4 252.0) rotate(-90)">P: 0.006</text>
<text font-size="6.7" font-style="italic" fill="#222" transform="translate(241.0 252.0) rotate(-90)">P: 0.008</text>
<text font-size="6.7" font-style="italic" fill="#222" transform="translate(247.6 252.0) rotate(-90)">P: 0.005</text>
<text font-size="6.7" font-style="italic" fill="#222" transform="translate(254.1 252.0) rotate(-90)">P&lt;0.001</text>
<text font-size="6.7" font-style="italic" fill="#222" transform="translate(260.7 231.5) rotate(-90)">P: 0.017</text>
<text x="92.4" y="330.6" font-size="11.3" text-anchor="end" fill="#111" transform="rotate(-45 92.4 330.6)" >LNCaP +CAV1</text>
<text x="162.8" y="330.6" font-size="11.3" text-anchor="end" fill="#111" transform="rotate(-45 162.8 330.6)" >PC-3M siCAV6</text>
<text x="232.8" y="330.6" font-size="11.3" text-anchor="end" fill="#111" transform="rotate(-45 232.8 330.6)" >PC-3M siCAV8</text>
<circle cx="277.40" cy="205.60" r="2.38" fill="#f80000" stroke="#2a1000" stroke-width="0.45"/>
<text x="285.8" y="209.35" font-size="10" fill="#111" >Acylcarnitines</text>
<rect x="275.15" y="214.62" width="4.50" height="4.50" fill="#f80000" stroke="#2a1000" stroke-width="0.45"/>
<text x="285.8" y="220.62" font-size="10" fill="#111" >Cardiolipins</text>
<path d="M277.40 225.49 L280.05 230.26 L274.75 230.26 Z" fill="#f80000" stroke="#2a1000" stroke-width="0.45"/>
<text x="285.8" y="231.89" font-size="10" fill="#111" >Ceramides</text>
<path d="M277.40 242.06 L280.05 237.29 L274.75 237.29 Z" fill="#cc0000" stroke="#2a1000" stroke-width="0.45"/>
<text x="285.8" y="243.16" font-size="10" fill="#111" >Cholesterol esters</text>
<path d="M277.40 248.56 L279.52 250.68 L277.40 252.81 L275.27 250.68 Z" fill="#ff6a00" stroke="#2a1000" stroke-width="0.45"/>
<text x="285.8" y="254.43" font-size="10" fill="#111" >Diacylglycerols</text>
<circle cx="277.40" cy="261.95" r="2.38" fill="#ff6a00" stroke="#2a1000" stroke-width="0.45"/>
<text x="285.8" y="265.7" font-size="10" fill="#111" >Glycosphingolipids</text>
<rect x="275.15" y="270.97" width="4.50" height="4.50" fill="#ff6a00" stroke="#2a1000" stroke-width="0.45"/>
<text x="285.8" y="276.97" font-size="10" fill="#111" >Lysophospholipids</text>
<path d="M277.40 281.84 L280.05 286.61 L274.75 286.61 Z" fill="#0000f8" stroke="#2a1000" stroke-width="0.45"/>
<text x="285.8" y="288.24" font-size="10" fill="#111" >Phospholipids</text>
<path d="M277.40 298.41 L280.05 293.64 L274.75 293.64 Z" fill="#0000f8" stroke="#2a1000" stroke-width="0.45"/>
<text x="285.8" y="299.51" font-size="10" fill="#111" >Sphingomyelins</text>
<path d="M277.40 304.28 L280.15 307.03 L277.40 309.78 L274.65 307.03 Z" fill="#0000f8" stroke="#2a1000" stroke-width="0.45"/>
<text x="285.8" y="310.78" font-size="10" fill="#111" >Triacylglycerols</text>
</g>
<g id="panel_d">
<text x="396.7" y="162.9" font-size="14.5" fill="#000" font-weight="bold" >d</text>
<text x="406.6" y="282.2" font-size="11.5" fill="#111" transform="rotate(-90 406.6 282.2)" >Relative abundance</text>
<text x="421.0" y="252.5" font-size="11.5" fill="#111" transform="rotate(-90 421.0 252.5)" >± StDev</text>
<rect x="541.80" y="160.50" width="8.20" height="8.00" fill="#ff0000" />
<text x="555.6" y="167.1" font-size="8.55" fill="#111" >LactosylCeramide(30:1)</text>
<rect x="541.80" y="170.15" width="8.20" height="8.00" fill="#00bb00" />
<text x="555.6" y="177.2" font-size="8.55" fill="#111" >LactosylCeramide(18:1/20:4)</text>
<rect x="541.80" y="179.80" width="8.20" height="8.00" fill="#0000ff" />
<text x="555.6" y="187.29999999999998" font-size="8.55" fill="#111" >LactosylCeramide(18:1/16:0)</text>
<line x1="465.6" y1="181" x2="465.6" y2="213.5" stroke="#1a1a1a" stroke-width="1" />
<line x1="465.6" y1="219.5" x2="465.6" y2="251.5" stroke="#1a1a1a" stroke-width="1" />
<line x1="465.6" y1="257.5" x2="465.6" y2="290" stroke="#1a1a1a" stroke-width="1" />
<line x1="463.70000000000005" y1="212.5" x2="467.70000000000005" y2="215.89999999999998" stroke="#1a1a1a" stroke-width="0.9" />
<line x1="463.70000000000005" y1="217.10000000000002" x2="467.70000000000005" y2="220.5" stroke="#1a1a1a" stroke-width="0.9" />
<line x1="463.70000000000005" y1="250.3" x2="467.70000000000005" y2="253.7" stroke="#1a1a1a" stroke-width="0.9" />
<line x1="463.70000000000005" y1="255.10000000000002" x2="467.70000000000005" y2="258.5" stroke="#1a1a1a" stroke-width="0.9" />
<line x1="465.1" y1="289.6" x2="647.8" y2="289.6" stroke="#1a1a1a" stroke-width="1" />
<line x1="462.8" y1="181.6" x2="465.6" y2="181.6" stroke="#1a1a1a" stroke-width="1" />
<text x="458.4" y="185.5" font-size="10.2" text-anchor="end" fill="#111" >30,000</text>
<line x1="462.8" y1="193.6" x2="465.6" y2="193.6" stroke="#1a1a1a" stroke-width="1" />
<text x="458.4" y="197.5" font-size="10.2" text-anchor="end" fill="#111" >25,000</text>
<line x1="462.8" y1="205.4" x2="465.6" y2="205.4" stroke="#1a1a1a" stroke-width="1" />
<text x="458.4" y="209.3" font-size="10.2" text-anchor="end" fill="#111" >20,000</text>
<line x1="462.8" y1="222" x2="465.6" y2="222" stroke="#1a1a1a" stroke-width="1" />
<text x="458.4" y="225.9" font-size="10.2" text-anchor="end" fill="#111" >12,000</text>
<line x1="462.8" y1="237.4" x2="465.6" y2="237.4" stroke="#1a1a1a" stroke-width="1" />
<text x="458.4" y="241.3" font-size="10.2" text-anchor="end" fill="#111" >10,000</text>
<text x="458.4" y="255.5" font-size="10.2" text-anchor="end" fill="#111" >8000</text>
<line x1="462.8" y1="264" x2="465.6" y2="264" stroke="#1a1a1a" stroke-width="1" />
<text x="458.4" y="267.9" font-size="10.2" text-anchor="end" fill="#111" >2000</text>
<line x1="462.8" y1="277" x2="465.6" y2="277" stroke="#1a1a1a" stroke-width="1" />
<text x="458.4" y="280.9" font-size="10.2" text-anchor="end" fill="#111" >1000</text>
<line x1="462.8" y1="289.6" x2="465.6" y2="289.6" stroke="#1a1a1a" stroke-width="1" />
<text x="458.4" y="293.5" font-size="10.2" text-anchor="end" fill="#111" >0</text>
<line x1="485" y1="289.6" x2="485" y2="292.6" stroke="#1a1a1a" stroke-width="1" />
<line x1="514" y1="289.6" x2="514" y2="292.6" stroke="#1a1a1a" stroke-width="1" />
<line x1="543" y1="289.6" x2="543" y2="292.6" stroke="#1a1a1a" stroke-width="1" />
<line x1="571" y1="289.6" x2="571" y2="292.6" stroke="#1a1a1a" stroke-width="1" />
<line x1="600" y1="289.6" x2="600" y2="292.6" stroke="#1a1a1a" stroke-width="1" />
<line x1="628.5" y1="289.6" x2="628.5" y2="292.6" stroke="#1a1a1a" stroke-width="1" />
<rect x="475.40" y="284.00" width="19.20" height="5.60" fill="#0000ff" />
<rect x="475.40" y="280.00" width="19.20" height="4.00" fill="#00bb00" />
<rect x="475.40" y="257.30" width="19.20" height="22.70" fill="#ff0000" />
<line x1="481" y1="283.7" x2="489" y2="283.7" stroke="#101010" stroke-width="0.7" />
<line x1="481" y1="279.7" x2="489" y2="279.7" stroke="#101010" stroke-width="0.7" />
<rect x="475.40" y="219.20" width="19.20" height="32.70" fill="#ff0000" />
<rect x="475.40" y="209.00" width="19.20" height="4.60" fill="#ff0000" />
<line x1="485" y1="207.4" x2="485" y2="209" stroke="#1a1a1a" stroke-width="0.9" />
<line x1="480.4" y1="207.4" x2="489.6" y2="207.4" stroke="#1a1a1a" stroke-width="0.9" />
<rect x="504.40" y="283.40" width="19.20" height="6.20" fill="#0000ff" />
<rect x="504.40" y="278.60" width="19.20" height="4.80" fill="#00bb00" />
<rect x="504.40" y="257.30" width="19.20" height="21.30" fill="#ff0000" />
<line x1="510" y1="283.09999999999997" x2="518" y2="283.09999999999997" stroke="#101010" stroke-width="0.7" />
<line x1="510" y1="278.3" x2="518" y2="278.3" stroke="#101010" stroke-width="0.7" />
<rect x="504.40" y="219.20" width="19.20" height="32.70" fill="#ff0000" />
<rect x="504.40" y="199.00" width="19.20" height="14.60" fill="#ff0000" />
<line x1="514" y1="195.4" x2="514" y2="199" stroke="#1a1a1a" stroke-width="0.9" />
<line x1="509.4" y1="195.4" x2="518.6" y2="195.4" stroke="#1a1a1a" stroke-width="0.9" />
<rect x="561.40" y="279.30" width="19.20" height="10.30" fill="#0000ff" />
<rect x="561.40" y="261.20" width="19.20" height="18.10" fill="#00bb00" />
<rect x="561.40" y="257.30" width="19.20" height="3.90" fill="#ff0000" />
<line x1="567" y1="279.0" x2="575" y2="279.0" stroke="#101010" stroke-width="0.7" />
<line x1="567" y1="260.9" x2="575" y2="260.9" stroke="#101010" stroke-width="0.7" />
<rect x="561.40" y="229.20" width="19.20" height="22.70" fill="#ff0000" />
<line x1="571" y1="224.3" x2="571" y2="229.2" stroke="#1a1a1a" stroke-width="0.9" />
<line x1="566.4" y1="224.3" x2="575.6" y2="224.3" stroke="#1a1a1a" stroke-width="0.9" />
<rect x="590.40" y="284.60" width="19.20" height="5.00" fill="#0000ff" />
<rect x="590.40" y="272.50" width="19.20" height="12.10" fill="#00bb00" />
<rect x="590.40" y="257.30" width="19.20" height="15.20" fill="#ff0000" />
<line x1="596" y1="284.3" x2="604" y2="284.3" stroke="#101010" stroke-width="0.7" />
<line x1="596" y1="272.2" x2="604" y2="272.2" stroke="#101010" stroke-width="0.7" />
<rect x="590.40" y="247.20" width="19.20" height="4.70" fill="#ff0000" />
<line x1="600" y1="244.3" x2="600" y2="247.2" stroke="#1a1a1a" stroke-width="0.9" />
<line x1="595.4" y1="244.3" x2="604.6" y2="244.3" stroke="#1a1a1a" stroke-width="0.9" />
<rect x="618.90" y="282.90" width="19.20" height="6.70" fill="#0000ff" />
<rect x="618.90" y="267.20" width="19.20" height="15.70" fill="#00bb00" />
<rect x="618.90" y="257.30" width="19.20" height="9.90" fill="#ff0000" />
<line x1="624.5" y1="282.59999999999997" x2="632.5" y2="282.59999999999997" stroke="#101010" stroke-width="0.7" />
<line x1="624.5" y1="266.9" x2="632.5" y2="266.9" stroke="#101010" stroke-width="0.7" />
<rect x="618.90" y="239.50" width="19.20" height="12.40" fill="#ff0000" />
<line x1="628.5" y1="237.6" x2="628.5" y2="239.5" stroke="#1a1a1a" stroke-width="0.9" />
<line x1="623.9" y1="237.6" x2="633.1" y2="237.6" stroke="#1a1a1a" stroke-width="0.9" />
<text x="501" y="186.6" font-size="9.3" text-anchor="middle" fill="#111" font-style="italic" >P: 0.011</text>
<path d="M485 204 V187.8 H514 V194.2" stroke="#777" stroke-width="0.65" fill="none" />
<text x="600" y="199.9" font-size="9.3" text-anchor="middle" fill="#111" font-style="italic" >P: 0.019</text>
<path d="M570.6 206.2 V201.5 H628.4 V228" stroke="#777" stroke-width="0.65" fill="none" />
<text x="586.2" y="214.8" font-size="9.3" text-anchor="middle" fill="#111" font-style="italic" >P: 0.002</text>
<path d="M570.6 223 V216.1 H600 V238.8" stroke="#777" stroke-width="0.65" fill="none" />
<text x="490.6" y="303.8" font-size="11.0" text-anchor="end" fill="#111" transform="rotate(-45 490.6 303.8)" >LNCaP Plasmid Control</text>
<text x="519.6" y="303.8" font-size="11.0" text-anchor="end" fill="#111" transform="rotate(-45 519.6 303.8)" >LNCaP + CAV1</text>
<text x="576.6" y="303.8" font-size="11.0" text-anchor="end" fill="#111" transform="rotate(-45 576.6 303.8)" >PC-3M siControls</text>
<text x="605.6" y="303.8" font-size="11.0" text-anchor="end" fill="#111" transform="rotate(-45 605.6 303.8)" >PC-3M siCAV6</text>
<text x="634.1" y="303.8" font-size="11.0" text-anchor="end" fill="#111" transform="rotate(-45 634.1 303.8)" >PC-3M siCAV8</text>
</g>
<g id="panel_e">
<text x="-0.5" y="418.9" font-size="14.5" fill="#000" font-weight="bold" >e</text>
<text x="43.8" y="472.6" font-size="6.6" text-anchor="middle" fill="#000" stroke="#000" stroke-width="0.18">Fatty acid</text>
<path d="M9.30 483.10 L13.50 476.80 L17.80 481.00 L20.88 476.70 L23.95 481.00 L27.02 476.70 L30.10 481.00 L33.17 476.70 L36.25 481.00 L44.85 481.00 L47.93 476.70 L51.00 481.00 L54.08 476.70 L57.15 481.00 L60.23 476.70 L63.30 481.00 L66.38 476.70 L69.45 481.00 L72.53 476.70 L75.60 481.00" fill="none" stroke="#141414" stroke-width="0.62" stroke-linejoin="round"/>
<line x1="37.75" y1="479.8" x2="43.35" y2="479.8" stroke="#141414" stroke-width="0.55" />
<circle cx="8.9" cy="484.3" r="3.4" fill="#f08a8a" fill-opacity="0.62"/><text x="8.9" y="485.3" font-size="2.9" fill="#d81818" text-anchor="middle">D₃</text><circle cx="17.7" cy="484.3" r="3.4" fill="#f08a8a" fill-opacity="0.62"/><text x="17.7" y="485.3" font-size="2.9" fill="#d81818" text-anchor="middle">D₂</text><circle cx="13.5" cy="474.5" r="3.4" fill="#f08a8a" fill-opacity="0.62"/><text x="13.5" y="475.5" font-size="2.9" fill="#d81818" text-anchor="middle">D₂</text>
<line x1="75.14999999999999" y1="481" x2="75.14999999999999" y2="485.2" stroke="#141414" stroke-width="0.45" />
<line x1="76.05" y1="481" x2="76.05" y2="485.2" stroke="#141414" stroke-width="0.45" />
<text x="75.6" y="488.6" font-size="3.3" text-anchor="middle" fill="#000" stroke="#000" stroke-width="0.08">O</text>
<line x1="75.6" y1="481" x2="78.4" y2="476.6" stroke="#141414" stroke-width="0.5" />
<text x="80.6" y="476" font-size="3.3" text-anchor="middle" fill="#000" stroke="#000" stroke-width="0.08">OH</text>
<text x="42.4" y="494" font-size="5.4" text-anchor="middle" fill="#000" stroke="#000" stroke-width="0.08">+</text>
<path d="M9.20 507.00 L12.23 502.30 L15.25 507.00 L18.28 502.30 L21.31 507.00 L24.33 502.30 L27.36 507.00 L30.39 502.30 L33.41 507.00 L36.44 502.30 L39.47 507.00 L42.49 502.30 L45.52 507.00 L48.55 502.30 L51.57 507.00 L54.60 502.30 L60.40 507.00 L65.50 502.30 L69.60 507.00 L73.60 502.50" fill="none" stroke="#141414" stroke-width="0.62" stroke-linejoin="round"/>
<line x1="54.79999999999998" y1="503.8" x2="59.49999999999998" y2="507.6" stroke="#141414" stroke-width="0.55" />
<line x1="65.49999999999999" y1="502.3" x2="65.49999999999999" y2="498.90000000000003" stroke="#141414" stroke-width="0.5" />
<text x="65.69999999999999" y="497.40000000000003" font-size="3.3" text-anchor="middle" fill="#000" stroke="#000" stroke-width="0.08">OH</text>
<text x="74.79999999999998" y="501.9" font-size="3.0" fill="#000" stroke="#000" stroke-width="0.08">CH₂OH</text>
<line x1="69.59999999999998" y1="507" x2="70.39999999999998" y2="510.6" stroke="#141414" stroke-width="0.5" />
<text x="71.19999999999997" y="514" font-size="3.3" text-anchor="middle" fill="#000" stroke="#000" stroke-width="0.08">NH₂</text>
<text x="43.5" y="516.5" font-size="6.6" text-anchor="middle" fill="#000" stroke="#000" stroke-width="0.18">Sphingosine</text>
<line x1="117" y1="503.4" x2="92.92" y2="503.4" stroke="#1a1a1a" stroke-width="0.7" /><path d="M91 503.4 L94.12 502.08 L94.12 504.72 Z" fill="#1a1a1a"/>
<text x="101.8" y="512" font-size="6.6" text-anchor="middle" fill="#000" stroke="#000" stroke-width="0.18">Ceramidase</text>
<line x1="42.4" y1="528" x2="42.4" y2="546.9599999999999" stroke="#1a1a1a" stroke-width="0.65" /><path d="M42.4 548.8 L41.13 545.81 L43.66 545.81 Z" fill="#1a1a1a"/>
<text x="46.6" y="539.5" font-size="6.6" fill="#000" stroke="#000" stroke-width="0.18">Sphingosine kinase</text>
<path d="M8.00 567.60 L11.05 563.00 L14.09 567.60 L17.14 563.00 L20.19 567.60 L23.23 563.00 L26.28 567.60 L29.33 563.00 L32.37 567.60 L35.42 563.00 L38.47 567.60 L41.51 563.00 L44.56 567.60 L47.61 563.00 L50.65 567.60 L53.70 563.00 L59.50 567.60 L64.60 563.00 L68.70 567.60 L72.70 563.20" fill="none" stroke="#141414" stroke-width="0.62" stroke-linejoin="round"/>
<line x1="53.900000000000006" y1="564.5" x2="58.6" y2="568.2" stroke="#141414" stroke-width="0.55" />
<line x1="64.60000000000001" y1="563" x2="64.60000000000001" y2="559.6" stroke="#141414" stroke-width="0.5" />
<text x="64.80000000000001" y="558.1" font-size="3.3" text-anchor="middle" fill="#000" stroke="#000" stroke-width="0.08">OH</text>
<line x1="68.7" y1="567.6" x2="69.5" y2="571.2" stroke="#141414" stroke-width="0.5" />
<text x="70.5" y="574.6" font-size="3.3" text-anchor="middle" fill="#000" stroke="#000" stroke-width="0.08">NH₂</text>
<text x="74.6" y="561.4" font-size="3.0" text-anchor="middle" fill="#000" stroke="#000" stroke-width="0.08">CH₂</text>
<text x="77.6" y="566.6" font-size="3.0" text-anchor="middle" fill="#000" stroke="#000" stroke-width="0.08">O</text>
<text x="81.6" y="564.0" font-size="3.4" text-anchor="middle" fill="#000" stroke="#000" stroke-width="0.08">P</text>
<text x="81.6" y="556.4" font-size="3.0" text-anchor="middle" fill="#000" stroke="#000" stroke-width="0.08">O</text>
<text x="81.0" y="569.8" font-size="3.0" text-anchor="middle" fill="#000" stroke="#000" stroke-width="0.08">O</text>
<line x1="81.19999999999999" y1="557.1999999999999" x2="81.19999999999999" y2="560.8" stroke="#141414" stroke-width="0.4" />
<line x1="82.0" y1="557.1999999999999" x2="82.0" y2="560.8" stroke="#141414" stroke-width="0.4" />
<line x1="81.6" y1="564.6" x2="81.3" y2="567.0" stroke="#141414" stroke-width="0.4" />
<line x1="78.8" y1="565.0" x2="80.39999999999999" y2="563.8" stroke="#141414" stroke-width="0.4" />
<line x1="76.0" y1="562.4" x2="77.0" y2="564.0" stroke="#141414" stroke-width="0.4" />
<line x1="82.8" y1="563.8" x2="84.19999999999999" y2="565.0" stroke="#141414" stroke-width="0.4" />
<text x="86.6" y="567.0" font-size="3.0" text-anchor="middle" fill="#000" stroke="#000" stroke-width="0.08">OH</text>
<text x="8" y="583.5" font-size="6.6" fill="#000" stroke="#000" stroke-width="0.18">Sphingosine 1-phosphate</text>
<path d="M142.45 436.60 L145.50 431.40 L148.55 436.60 L151.60 431.40 L154.65 436.60 L157.70 431.40 L160.75 436.60 L163.80 431.40 L166.85 436.60 L169.90 431.40 L172.95 436.60 L176.00 431.40 L179.05 436.60 L182.10 431.40 L185.15 436.60 L188.20 431.40 L194.00 436.60 L199.10 431.40 L203.20 436.60 L207.20 431.60" fill="none" stroke="#141414" stroke-width="0.62" stroke-linejoin="round"/>
<line x1="188.40000000000015" y1="432.9" x2="193.10000000000016" y2="437.20000000000005" stroke="#141414" stroke-width="0.55" />
<line x1="199.10000000000016" y1="431.4" x2="199.10000000000016" y2="428.0" stroke="#141414" stroke-width="0.5" />
<text x="199.30000000000015" y="426.5" font-size="3.3" text-anchor="middle" fill="#000" stroke="#000" stroke-width="0.08">OH</text>
<text x="209.4" y="430.4" font-size="3.0" text-anchor="middle" fill="#000" stroke="#000" stroke-width="0.08">CH₂</text>
<text x="218.2" y="430.4" font-size="3.0" text-anchor="middle" fill="#000" stroke="#000" stroke-width="0.08">– O –</text>
<path d="M232.80 428.60 L230.60 432.06 L226.20 432.06 L224.00 428.60 L226.20 425.14 L230.60 425.14 Z" fill="#fff" stroke="#333" stroke-width="0.5"/>
<text x="228.4" y="429.6" font-size="2.8" text-anchor="middle" fill="#000" stroke="#000" stroke-width="0.08">Glc</text>
<line x1="203.20000000000016" y1="436.6" x2="204.10000000000016" y2="440.20000000000005" stroke="#141414" stroke-width="0.5" />
<text x="203.2" y="443.6" font-size="3.3" text-anchor="middle" fill="#000" stroke="#000" stroke-width="0.08">NH</text>
<path d="M132.40 451.80 L136.40 446.10 L140.70 450.20 L143.78 446.00 L146.86 450.20 L149.94 446.00 L153.03 450.20 L156.11 446.00 L159.19 450.20 L167.79 450.20 L170.87 446.00 L173.95 450.20 L177.03 446.00 L180.11 450.20 L183.19 446.00 L186.28 450.20 L189.36 446.00 L192.44 450.20 L195.52 446.00 L198.60 450.20" fill="none" stroke="#141414" stroke-width="0.62" stroke-linejoin="round"/>
<line x1="160.68750000000006" y1="449.0" x2="166.28750000000005" y2="449.0" stroke="#141414" stroke-width="0.55" />
<circle cx="132" cy="453" r="3.4" fill="#f08a8a" fill-opacity="0.62"/><text x="132" y="454.0" font-size="2.9" fill="#d81818" text-anchor="middle">D₃</text><circle cx="140.6" cy="453" r="3.4" fill="#f08a8a" fill-opacity="0.62"/><text x="140.6" y="454.0" font-size="2.9" fill="#d81818" text-anchor="middle">D₂</text><circle cx="136.4" cy="442.4" r="3.4" fill="#f08a8a" fill-opacity="0.62"/><text x="136.4" y="443.4" font-size="2.9" fill="#d81818" text-anchor="middle">D₂</text>
<line x1="198.15" y1="450.2" x2="198.15" y2="454.4" stroke="#141414" stroke-width="0.45" />
<line x1="199.04999999999998" y1="450.2" x2="199.04999999999998" y2="454.4" stroke="#141414" stroke-width="0.45" />
<text x="198.6" y="457.8" font-size="3.3" text-anchor="middle" fill="#000" stroke="#000" stroke-width="0.08">O</text>
<line x1="198.6" y1="450.2" x2="201.6" y2="445.2" stroke="#141414" stroke-width="0.5" />
<text x="144" y="460" font-size="6.6" fill="#000" stroke="#000" stroke-width="0.18">Glucosylceramide</text>
<line x1="212" y1="449.4" x2="235.28" y2="449.4" stroke="#1a1a1a" stroke-width="0.7" /><path d="M237.2 449.4 L234.08 448.08 L234.08 450.72 Z" fill="#1a1a1a"/>
<text x="223.2" y="458.6" font-size="6.6" text-anchor="middle" fill="#000" stroke="#000" stroke-width="0.18">LacCer</text>
<text x="223" y="466.3" font-size="6.6" text-anchor="middle" fill="#000" stroke="#000" stroke-width="0.18">synthase</text>
<line x1="168.6" y1="487" x2="168.6" y2="467.84" stroke="#1a1a1a" stroke-width="0.65" /><path d="M168.6 466 L167.34 468.99 L169.86 468.99 Z" fill="#1a1a1a"/>
<line x1="173" y1="466" x2="173" y2="485.16" stroke="#1a1a1a" stroke-width="0.65" /><path d="M173 487 L171.74 484.01 L174.26 484.01 Z" fill="#1a1a1a"/>
<text x="144.4" y="478.6" font-size="6.6" fill="#000" stroke="#000" stroke-width="0.18">GCase</text>
<text x="175.6" y="479" font-size="6.6" fill="#000" stroke="#000" stroke-width="0.18">Glucosylceramide synthase</text>
<circle cx="271.3" cy="454.6" r="3.4" fill="#f08a8a" fill-opacity="0.62"/><text x="271.3" y="455.6" font-size="2.9" fill="#d81818" text-anchor="middle">D₃</text><circle cx="279.4" cy="454.6" r="3.4" fill="#f08a8a" fill-opacity="0.62"/><text x="279.4" y="455.6" font-size="2.9" fill="#d81818" text-anchor="middle">D₂</text><circle cx="275.7" cy="444.2" r="3.4" fill="#f08a8a" fill-opacity="0.62"/><text x="275.7" y="445.2" font-size="2.9" fill="#d81818" text-anchor="middle">D₂</text>
<text x="241.5" y="452.3" font-size="6.6" fill="#000" stroke="#000" stroke-width="0.18">Lactosylceramide</text>
<line x1="294.3" y1="449.7" x2="317.88" y2="449.7" stroke="#1a1a1a" stroke-width="0.7" /><path d="M319.8 449.7 L316.68 448.38 L316.68 451.02 Z" fill="#1a1a1a"/>
<text x="306.7" y="459.4" font-size="6.6" text-anchor="middle" fill="#000" stroke="#000" stroke-width="0.18">Sialyl</text>
<text x="306.7" y="466.2" font-size="6.6" text-anchor="middle" fill="#000" stroke="#000" stroke-width="0.18">transferase</text>
<circle cx="346" cy="454.6" r="3.4" fill="#f08a8a" fill-opacity="0.62"/><text x="346" y="455.6" font-size="2.9" fill="#d81818" text-anchor="middle">D₃</text><circle cx="353.9" cy="454.6" r="3.4" fill="#f08a8a" fill-opacity="0.62"/><text x="353.9" y="455.6" font-size="2.9" fill="#d81818" text-anchor="middle">D₂</text><circle cx="350.2" cy="444.2" r="3.4" fill="#f08a8a" fill-opacity="0.62"/><text x="350.2" y="445.2" font-size="2.9" fill="#d81818" text-anchor="middle">D₂</text>
<text x="322.9" y="452.3" font-size="6.6" fill="#000" stroke="#000" stroke-width="0.18">Gangliosides</text>
<path d="M136.50 500.60 L139.55 496.00 L142.59 500.60 L145.64 496.00 L148.69 500.60 L151.73 496.00 L154.78 500.60 L157.83 496.00 L160.87 500.60 L163.92 496.00 L166.97 500.60 L170.01 496.00 L173.06 500.60 L176.11 496.00 L179.15 500.60 L182.20 496.00 L188.00 500.60 L193.10 496.00 L197.20 500.60 L201.20 496.20" fill="none" stroke="#141414" stroke-width="0.62" stroke-linejoin="round"/>
<line x1="182.39999999999978" y1="497.5" x2="187.0999999999998" y2="501.20000000000005" stroke="#141414" stroke-width="0.55" />
<line x1="193.0999999999998" y1="496" x2="193.0999999999998" y2="492.6" stroke="#141414" stroke-width="0.5" />
<text x="193.29999999999978" y="491.1" font-size="3.3" text-anchor="middle" fill="#000" stroke="#000" stroke-width="0.08">OH</text>
<text x="202.39999999999978" y="495.4" font-size="3.0" fill="#000" stroke="#000" stroke-width="0.08">CH₂OH</text>
<line x1="197.1999999999998" y1="500.6" x2="198.0999999999998" y2="504.20000000000005" stroke="#141414" stroke-width="0.5" />
<text x="197.6" y="508.4" font-size="3.3" text-anchor="middle" fill="#000" stroke="#000" stroke-width="0.08">NH</text>
<path d="M126.40 516.20 L130.40 510.70 L134.70 515.00 L137.74 510.60 L140.79 515.00 L143.83 510.60 L146.87 515.00 L149.92 510.60 L152.96 515.00 L161.56 515.00 L164.61 510.60 L167.65 515.00 L170.69 510.60 L173.74 515.00 L176.78 510.60 L179.82 515.00 L182.87 510.60 L185.91 515.00 L188.96 510.60 L192.00 515.00" fill="none" stroke="#141414" stroke-width="0.62" stroke-linejoin="round"/>
<line x1="154.46249999999992" y1="513.8" x2="160.06249999999991" y2="513.8" stroke="#141414" stroke-width="0.55" />
<circle cx="126" cy="517.4" r="3.4" fill="#f08a8a" fill-opacity="0.62"/><text x="126" y="518.4" font-size="2.9" fill="#d81818" text-anchor="middle">D₃</text><circle cx="134.6" cy="517.4" r="3.4" fill="#f08a8a" fill-opacity="0.62"/><text x="134.6" y="518.4" font-size="2.9" fill="#d81818" text-anchor="middle">D₂</text><circle cx="130.4" cy="507.4" r="3.4" fill="#f08a8a" fill-opacity="0.62"/><text x="130.4" y="508.4" font-size="2.9" fill="#d81818" text-anchor="middle">D₂</text>
<line x1="191.55" y1="515" x2="191.55" y2="519.2" stroke="#141414" stroke-width="0.45" />
<line x1="192.45" y1="515" x2="192.45" y2="519.2" stroke="#141414" stroke-width="0.45" />
<text x="192" y="522.6" font-size="3.3" text-anchor="middle" fill="#000" stroke="#000" stroke-width="0.08">O</text>
<line x1="192" y1="515" x2="195" y2="510" stroke="#141414" stroke-width="0.5" />
<text x="178" y="530" font-size="6.6" fill="#000" stroke="#000" stroke-width="0.18">Ceramide</text>
<line x1="213" y1="502.4" x2="236.88000000000002" y2="502.4" stroke="#1a1a1a" stroke-width="0.7" /><path d="M238.8 502.4 L235.68 501.08 L235.68 503.72 Z" fill="#1a1a1a"/>
<text x="224.5" y="511" font-size="6.6" text-anchor="middle" fill="#000" stroke="#000" stroke-width="0.18">Ceramide</text>
<text x="223.8" y="519" font-size="6.6" text-anchor="middle" fill="#000" stroke="#000" stroke-width="0.18">kinase</text>
<line x1="168.6" y1="551" x2="168.6" y2="531.84" stroke="#1a1a1a" stroke-width="0.65" /><path d="M168.6 530 L167.34 532.99 L169.86 532.99 Z" fill="#1a1a1a"/>
<line x1="173" y1="530" x2="173" y2="549.16" stroke="#1a1a1a" stroke-width="0.65" /><path d="M173 551 L171.74 548.01 L174.26 548.01 Z" fill="#1a1a1a"/>
<text x="144.4" y="542.6" font-size="6.6" fill="#000" stroke="#000" stroke-width="0.18">SMase</text>
<text x="176.6" y="542.7" font-size="6.6" fill="#000" stroke="#000" stroke-width="0.18">Sphingomyelin synthase</text>
<path d="M256.60 501.30 L259.65 496.30 L262.69 501.30 L265.74 496.30 L268.79 501.30 L271.83 496.30 L274.88 501.30 L277.93 496.30 L280.97 501.30 L284.02 496.30 L287.07 501.30 L290.11 496.30 L293.16 501.30 L296.21 496.30 L299.25 501.30 L302.30 496.30 L308.10 501.30 L313.20 496.30 L317.30 501.30 L321.30 496.50" fill="none" stroke="#141414" stroke-width="0.62" stroke-linejoin="round"/>
<line x1="302.5000000000002" y1="497.8" x2="307.2000000000003" y2="501.90000000000003" stroke="#141414" stroke-width="0.55" />
<line x1="313.2000000000002" y1="496.3" x2="313.2000000000002" y2="492.90000000000003" stroke="#141414" stroke-width="0.5" />
<text x="313.4000000000002" y="491.40000000000003" font-size="3.3" text-anchor="middle" fill="#000" stroke="#000" stroke-width="0.08">OH</text>
<line x1="317.30000000000024" y1="501.3" x2="318.2000000000002" y2="504.90000000000003" stroke="#141414" stroke-width="0.5" />
<text x="318.2" y="507.8" font-size="3.3" text-anchor="middle" fill="#000" stroke="#000" stroke-width="0.08">NH</text>
<text x="323.4" y="495.2" font-size="3.0" text-anchor="middle" fill="#000" stroke="#000" stroke-width="0.08">CH₂</text>
<text x="326.4" y="500.4" font-size="3.0" text-anchor="middle" fill="#000" stroke="#000" stroke-width="0.08">O</text>
<text x="330.4" y="497.8" font-size="3.4" text-anchor="middle" fill="#000" stroke="#000" stroke-width="0.08">P</text>
<text x="330.4" y="490.2" font-size="3.0" text-anchor="middle" fill="#000" stroke="#000" stroke-width="0.08">O</text>
<text x="329.79999999999995" y="503.59999999999997" font-size="3.0" text-anchor="middle" fill="#000" stroke="#000" stroke-width="0.08">O</text>
<line x1="330.0" y1="491.0" x2="330.0" y2="494.59999999999997" stroke="#141414" stroke-width="0.4" />
<line x1="330.79999999999995" y1="491.0" x2="330.79999999999995" y2="494.59999999999997" stroke="#141414" stroke-width="0.4" />
<line x1="330.4" y1="498.4" x2="330.09999999999997" y2="500.8" stroke="#141414" stroke-width="0.4" />
<line x1="327.59999999999997" y1="498.8" x2="329.2" y2="497.59999999999997" stroke="#141414" stroke-width="0.4" />
<line x1="324.79999999999995" y1="496.2" x2="325.79999999999995" y2="497.8" stroke="#141414" stroke-width="0.4" />
<line x1="331.59999999999997" y1="497.59999999999997" x2="333.0" y2="498.8" stroke="#141414" stroke-width="0.4" />
<text x="335.4" y="500.8" font-size="3.0" text-anchor="middle" fill="#000" stroke="#000" stroke-width="0.08">OH</text>
<path d="M246.40 516.20 L250.20 510.60 L254.70 515.40 L257.76 510.50 L260.81 515.40 L263.87 510.50 L266.92 515.40 L269.98 510.50 L273.04 515.40 L281.64 515.40 L284.69 510.50 L287.75 515.40 L290.81 510.50 L293.86 515.40 L296.92 510.50 L299.97 515.40 L303.03 510.50 L306.09 515.40 L309.14 510.50 L312.20 515.40" fill="none" stroke="#141414" stroke-width="0.62" stroke-linejoin="round"/>
<line x1="274.53749999999985" y1="514.1999999999999" x2="280.1374999999999" y2="514.1999999999999" stroke="#141414" stroke-width="0.55" />
<circle cx="246" cy="517.4" r="3.4" fill="#f08a8a" fill-opacity="0.62"/><text x="246" y="518.4" font-size="2.9" fill="#d81818" text-anchor="middle">D₃</text><circle cx="254.6" cy="517.4" r="3.4" fill="#f08a8a" fill-opacity="0.62"/><text x="254.6" y="518.4" font-size="2.9" fill="#d81818" text-anchor="middle">D₂</text><circle cx="250.2" cy="506.7" r="3.4" fill="#f08a8a" fill-opacity="0.62"/><text x="250.2" y="507.7" font-size="2.9" fill="#d81818" text-anchor="middle">D₂</text>
<line x1="311.75" y1="515.4" x2="311.75" y2="519.6" stroke="#141414" stroke-width="0.45" />
<line x1="312.65" y1="515.4" x2="312.65" y2="519.6" stroke="#141414" stroke-width="0.45" />
<text x="312.2" y="523.0" font-size="3.3" text-anchor="middle" fill="#000" stroke="#000" stroke-width="0.08">O</text>
<line x1="312.2" y1="515.4" x2="315.4" y2="510" stroke="#141414" stroke-width="0.5" />
<text x="279.4" y="529.5" font-size="6.6" fill="#000" stroke="#000" stroke-width="0.18">Ceramide 1-phosphate</text>
<path d="M121.00 569.40 L124.05 565.00 L127.09 569.40 L130.14 565.00 L133.19 569.40 L136.23 565.00 L139.28 569.40 L142.33 565.00 L145.37 569.40 L148.42 565.00 L151.47 569.40 L154.51 565.00 L157.56 569.40 L160.61 565.00 L163.65 569.40 L166.70 565.00 L172.50 569.40 L177.60 565.00 L181.70 569.40 L185.70 565.20" fill="none" stroke="#141414" stroke-width="0.62" stroke-linejoin="round"/>
<line x1="166.8999999999998" y1="566.5" x2="171.59999999999982" y2="570.0" stroke="#141414" stroke-width="0.55" />
<line x1="177.59999999999982" y1="565" x2="177.59999999999982" y2="561.6" stroke="#141414" stroke-width="0.5" />
<text x="177.7999999999998" y="560.1" font-size="3.3" text-anchor="middle" fill="#000" stroke="#000" stroke-width="0.08">OH</text>
<line x1="181.69999999999982" y1="569.4" x2="182.59999999999982" y2="573.0" stroke="#141414" stroke-width="0.5" />
<text x="182.4" y="577.2" font-size="3.3" text-anchor="middle" fill="#000" stroke="#000" stroke-width="0.08">NH</text>
<text x="186.6" y="564" font-size="3.0" text-anchor="middle" fill="#000" stroke="#000" stroke-width="0.08">CH₂</text>
<text x="189.6" y="569.2" font-size="3.0" text-anchor="middle" fill="#000" stroke="#000" stroke-width="0.08">O</text>
<text x="193.6" y="566.6" font-size="3.4" text-anchor="middle" fill="#000" stroke="#000" stroke-width="0.08">P</text>
<text x="193.6" y="559" font-size="3.0" text-anchor="middle" fill="#000" stroke="#000" stroke-width="0.08">O</text>
<text x="193.0" y="572.4" font-size="3.0" text-anchor="middle" fill="#000" stroke="#000" stroke-width="0.08">O</text>
<line x1="193.2" y1="559.8" x2="193.2" y2="563.4" stroke="#141414" stroke-width="0.4" />
<line x1="194.0" y1="559.8" x2="194.0" y2="563.4" stroke="#141414" stroke-width="0.4" />
<line x1="193.6" y1="567.2" x2="193.29999999999998" y2="569.6" stroke="#141414" stroke-width="0.4" />
<line x1="190.79999999999998" y1="567.6" x2="192.4" y2="566.4" stroke="#141414" stroke-width="0.4" />
<line x1="188.0" y1="565" x2="189.0" y2="566.6" stroke="#141414" stroke-width="0.4" />
<text x="198.2" y="569.4" font-size="3.0" text-anchor="middle" fill="#000" stroke="#000" stroke-width="0.08">O</text>
<path d="M199.60 567.60 L202.40 571.40 L205.40 568.20 L208.00 571.60" fill="none" stroke="#141414" stroke-width="0.5" stroke-linejoin="round"/>
<text x="209" y="574.4" font-size="3.2" text-anchor="middle" fill="#000" stroke="#000" stroke-width="0.08">N</text>
<text x="210.8" y="572.6" font-size="2.2" text-anchor="middle" fill="#000" stroke="#000" stroke-width="0.08">+</text>
<line x1="210.2" y1="572.6" x2="212.6" y2="570.6" stroke="#141414" stroke-width="0.45" />
<line x1="210.4" y1="574" x2="213" y2="575.4" stroke="#141414" stroke-width="0.45" />
<line x1="209" y1="575" x2="209" y2="578" stroke="#141414" stroke-width="0.45" />
<path d="M110.40 585.20 L114.60 580.10 L118.70 584.20 L121.74 580.00 L124.79 584.20 L127.83 580.00 L130.88 584.20 L133.92 580.00 L136.96 584.20 L145.56 584.20 L148.61 580.00 L151.65 584.20 L154.69 580.00 L157.74 584.20 L160.78 580.00 L163.82 584.20 L166.87 580.00 L169.91 584.20 L172.96 580.00 L176.00 584.20" fill="none" stroke="#141414" stroke-width="0.62" stroke-linejoin="round"/>
<line x1="138.46249999999998" y1="583.0" x2="144.06249999999997" y2="583.0" stroke="#141414" stroke-width="0.55" />
<circle cx="110" cy="586.4" r="3.4" fill="#f08a8a" fill-opacity="0.62"/><text x="110" y="587.4" font-size="2.9" fill="#d81818" text-anchor="middle">D₃</text><circle cx="118.6" cy="586.4" r="3.4" fill="#f08a8a" fill-opacity="0.62"/><text x="118.6" y="587.4" font-size="2.9" fill="#d81818" text-anchor="middle">D₂</text><circle cx="114.6" cy="576" r="3.4" fill="#f08a8a" fill-opacity="0.62"/><text x="114.6" y="577.0" font-size="2.9" fill="#d81818" text-anchor="middle">D₂</text>
<line x1="175.55" y1="584.2" x2="175.55" y2="588.4000000000001" stroke="#141414" stroke-width="0.45" />
<line x1="176.45" y1="584.2" x2="176.45" y2="588.4000000000001" stroke="#141414" stroke-width="0.45" />
<text x="176" y="591.8000000000001" font-size="3.3" text-anchor="middle" fill="#000" stroke="#000" stroke-width="0.08">O</text>
<line x1="176" y1="584.2" x2="179.4" y2="579" stroke="#141414" stroke-width="0.5" />
<text x="155.6" y="600.5" font-size="6.6" fill="#000" stroke="#000" stroke-width="0.18">Sphingomyelin</text>
<path d="M224 575.5 L228.4 571.6 L228.4 573.7 L233.8 573.7 L233.8 577.3 L228.4 577.3 L228.4 579.4 Z" fill="#000"/>
<circle cx="260.5" cy="574.1" r="15.7" fill="#1b5797"/>
<line x1="258.7982478588641" y1="564.4488840204804" x2="258.068925512663" y2="560.3126914578291" stroke="#0d3a70" stroke-width="0.7" />
<line x1="259.98710762881916" y1="564.3134305594052" x2="259.7672966125988" y2="560.119186513436" stroke="#0d3a70" stroke-width="0.7" />
<line x1="261.18361344269243" y1="564.3238723074537" x2="261.47659063241775" y2="560.1341032963625" stroke="#0d3a70" stroke-width="0.7" />
<line x1="262.3699281546901" y1="564.4800536022129" x2="263.1713259352716" y2="560.3572194317327" stroke="#0d3a70" stroke-width="0.7" />
<line x1="263.5283665448745" y1="564.7796461403075" x2="264.8262379212493" y2="560.7852087718679" stroke="#0d3a70" stroke-width="0.7" />
<line x1="264.64165896505887" y1="565.2181836870409" x2="266.4166556643698" y2="561.4116909814869" stroke="#0d3a70" stroke-width="0.7" />
<line x1="265.6932087894854" y1="565.789128657667" x2="267.91886969926486" y2="562.2273266538101" stroke="#0d3a70" stroke-width="0.7" />
<line x1="266.6673398322884" y1="566.4839695777217" x2="269.3104854746977" y2="563.2199565396024" stroke="#0d3a70" stroke-width="0.7" />
<line x1="267.5495300433188" y1="567.2923479695019" x2="270.57075720474114" y2="564.374782813574" stroke="#0d3a70" stroke-width="0.7" />
<line x1="268.3266279984635" y1="568.20221277311" x2="271.6808971406621" y2="565.6745896758714" stroke="#0d3a70" stroke-width="0.7" />
<line x1="268.9870489570875" y1="569.2" x2="272.62435565298216" y2="567.1" stroke="#0d3a70" stroke-width="0.7" />
<line x1="269.52094756383394" y1="570.2708349408051" x2="273.38706794833416" y2="568.6297642011502" stroke="#0d3a70" stroke-width="0.7" />
<line x1="269.9203646201955" y1="571.3987539129935" x2="273.95766374313644" y2="570.241077018562" stroke="#0d3a70" stroke-width="0.7" />
<line x1="270.17934573783236" y1="572.5669422426057" x2="274.3276367683319" y2="571.9099174894368" stroke="#0d3a70" stroke-width="0.7" />
<line x1="270.2940301047871" y1="573.7579849323155" x2="274.49147157826735" y2="573.611407046165" stroke="#0d3a70" stroke-width="0.7" />
<line x1="270.2627080412991" y1="574.9541262789271" x2="274.4467257732844" y2="575.3201803984672" stroke="#0d3a70" stroke-width="0.7" />
<line x1="270.0858464871913" y1="576.137534570014" x2="274.1940664102733" y2="577.0107636714487" stroke="#0d3a70" stroke-width="0.7" />
<line x1="269.7660820408733" y1="577.2905679136802" x2="273.73726005839046" y2="578.6579541624002" stroke="#0d3a70" stroke-width="0.7" />
<line x1="269.3081816537318" y1="578.3960372385329" x2="273.08311664818837" y2="580.2371960550471" stroke="#0d3a70" stroke-width="0.7" />
<line x1="268.71897156586516" y1="579.4374625431473" x2="272.24138795123594" y2="581.7249464902104" stroke="#0d3a70" stroke-width="0.7" />
<line x1="268.007235542566" y1="580.3993185749281" x2="271.2246222036657" y2="583.0990265356115" stroke="#0d3a70" stroke-width="0.7" />
<line x1="267.1835839286125" y1="581.2672662758679" x2="270.04797704087497" y2="584.3389518226684" stroke="#0d3a70" stroke-width="0.7" />
<line x1="266.2602954724662" y1="582.0283665448745" x2="268.72899353209465" y2="585.4262379212493" stroke="#0d3a70" stroke-width="0.7" />
<line x1="265.2511342784141" y1="582.6712731299662" x2="267.2873346834487" y2="586.3446758999515" stroke="#0d3a70" stroke-width="0.7" />
<line x1="264.17114461547595" y1="583.1864017747546" x2="265.7444923078228" y2="587.0805739639351" stroke="#0d3a70" stroke-width="0.7" />
<line x1="263.0364266420047" y1="583.5660730976329" x2="264.1234666314353" y2="587.622961568047" stroke="#0d3a70" stroke-width="0.7" />
<line x1="261.86389638940864" y1="583.8046270736675" x2="262.44842341344093" y2="587.963752962382" stroke="#0d3a70" stroke-width="0.7" />
<line x1="260.6710335830854" y1="583.8985074125327" x2="260.74433369012195" y2="588.0978677321895" stroke="#0d3a70" stroke-width="0.7" />
<line x1="259.475621059977" y1="583.8463145746091" x2="259.0366015142528" y2="588.0233065351558" stroke="#0d3a70" stroke-width="0.7" />
<circle cx="260.8" cy="574.1" r="10.1" fill="url(#gsph)"/>
<circle cx="275.50" cy="574.10" r="1.55" fill="url(#gbb)"/>
<circle cx="275.23" cy="576.94" r="1.55" fill="url(#gbb)"/>
<circle cx="274.43" cy="579.67" r="1.55" fill="url(#gbb)"/>
<circle cx="273.12" cy="582.21" r="1.55" fill="url(#gbb)"/>
<circle cx="271.36" cy="584.45" r="1.55" fill="url(#gbb)"/>
<circle cx="269.20" cy="586.32" r="1.55" fill="url(#gbb)"/>
<circle cx="266.73" cy="587.74" r="1.55" fill="url(#gbb)"/>
<circle cx="264.04" cy="588.68" r="1.55" fill="url(#gbb)"/>
<circle cx="261.21" cy="589.08" r="1.55" fill="url(#gbb)"/>
<circle cx="258.37" cy="588.95" r="1.55" fill="url(#gbb)"/>
<circle cx="255.59" cy="588.28" r="1.55" fill="url(#gbb)"/>
<circle cx="253.00" cy="587.09" r="1.55" fill="url(#gbb)"/>
<circle cx="250.68" cy="585.44" r="1.55" fill="url(#gbb)"/>
<circle cx="248.71" cy="583.37" r="1.55" fill="url(#gbb)"/>
<circle cx="247.17" cy="580.97" r="1.55" fill="url(#gbb)"/>
<circle cx="246.11" cy="578.33" r="1.55" fill="url(#gbb)"/>
<circle cx="245.57" cy="575.53" r="1.55" fill="url(#gbb)"/>
<circle cx="245.57" cy="572.67" r="1.55" fill="url(#gbb)"/>
<circle cx="246.11" cy="569.87" r="1.55" fill="url(#gbb)"/>
<circle cx="247.17" cy="567.23" r="1.55" fill="url(#gbb)"/>
<circle cx="248.71" cy="564.83" r="1.55" fill="url(#gbb)"/>
<circle cx="250.68" cy="562.76" r="1.55" fill="url(#gbb)"/>
<circle cx="253.00" cy="561.11" r="1.55" fill="url(#gbb)"/>
<circle cx="255.59" cy="559.92" r="1.55" fill="url(#gbb)"/>
<circle cx="258.37" cy="559.25" r="1.55" fill="url(#gbb)"/>
<circle cx="261.21" cy="559.12" r="1.55" fill="url(#gbb)"/>
<circle cx="264.04" cy="559.52" r="1.55" fill="url(#gbb)"/>
<circle cx="266.73" cy="560.46" r="1.55" fill="url(#gbb)"/>
<circle cx="269.20" cy="561.88" r="1.55" fill="url(#gby)"/>
<circle cx="271.36" cy="563.75" r="1.55" fill="url(#gby)"/>
<circle cx="273.12" cy="565.99" r="1.55" fill="url(#gbb)"/>
<circle cx="274.43" cy="568.53" r="1.55" fill="url(#gbb)"/>
<circle cx="275.23" cy="571.26" r="1.55" fill="url(#gby)"/>
<circle cx="258.38" cy="586.11" r="1.55" fill="url(#gbb)"/>
<circle cx="255.67" cy="585.30" r="1.55" fill="url(#gbb)"/>
<circle cx="253.21" cy="583.89" r="1.55" fill="url(#gby)"/>
<circle cx="251.15" cy="581.94" r="1.55" fill="url(#gbb)"/>
<circle cx="249.60" cy="579.58" r="1.55" fill="url(#gbb)"/>
<circle cx="248.63" cy="576.91" r="1.55" fill="url(#gbb)"/>
<circle cx="248.30" cy="574.10" r="1.55" fill="url(#gbb)"/>
<circle cx="248.63" cy="571.29" r="1.55" fill="url(#gbb)"/>
<circle cx="249.60" cy="568.62" r="1.55" fill="url(#gbb)"/>
<circle cx="251.15" cy="566.26" r="1.55" fill="url(#gbb)"/>
<circle cx="253.21" cy="564.31" r="1.55" fill="url(#gbb)"/>
<circle cx="255.67" cy="562.90" r="1.55" fill="url(#gbb)"/>
<circle cx="258.38" cy="562.09" r="1.55" fill="url(#gbb)"/>
<circle cx="258.41" cy="583.26" r="1.55" fill="url(#gbb)"/>
<circle cx="255.80" cy="582.24" r="1.55" fill="url(#gbb)"/>
<circle cx="253.61" cy="580.49" r="1.55" fill="url(#gbb)"/>
<circle cx="252.03" cy="578.18" r="1.55" fill="url(#gby)"/>
<circle cx="251.20" cy="575.50" r="1.55" fill="url(#gbb)"/>
<circle cx="251.20" cy="572.70" r="1.55" fill="url(#gbb)"/>
<circle cx="252.03" cy="570.02" r="1.55" fill="url(#gbb)"/>
<circle cx="253.61" cy="567.71" r="1.55" fill="url(#gbb)"/>
<circle cx="255.80" cy="565.96" r="1.55" fill="url(#gby)"/>
<circle cx="258.41" cy="564.94" r="1.55" fill="url(#gby)"/>
<circle cx="258.46" cy="580.38" r="1.55" fill="url(#gbb)"/>
<circle cx="256.08" cy="579.00" r="1.55" fill="url(#gby)"/>
<circle cx="254.47" cy="576.78" r="1.55" fill="url(#gbb)"/>
<circle cx="253.90" cy="574.10" r="1.55" fill="url(#gby)"/>
<circle cx="254.47" cy="571.42" r="1.55" fill="url(#gby)"/>
<circle cx="256.08" cy="569.20" r="1.55" fill="url(#gbb)"/>
<circle cx="256.70" cy="574.10" r="1.55" fill="url(#gbb)"/>
<circle cx="257.81" cy="571.41" r="1.55" fill="url(#gbb)"/>
<text x="264.3" y="575.7" font-size="4.4" text-anchor="middle" fill="#3a3a3a" >TG</text>
<text x="275" y="560" font-size="6.6" fill="#000" stroke="#000" stroke-width="0.18">Phosphatidylcholine</text>
<circle cx="285" cy="595.6" r="3.4" fill="#f08a8a" fill-opacity="0.62"/><text x="285" y="596.6" font-size="2.9" fill="#d81818" text-anchor="middle">D₃</text><circle cx="293.6" cy="595.6" r="3.4" fill="#f08a8a" fill-opacity="0.62"/><text x="293.6" y="596.6" font-size="2.9" fill="#d81818" text-anchor="middle">D₂</text><circle cx="289.4" cy="585" r="3.4" fill="#f08a8a" fill-opacity="0.62"/><text x="289.4" y="586.0" font-size="2.9" fill="#d81818" text-anchor="middle">D₂</text>
<text x="272" y="593.2" font-size="6.6" fill="#000" stroke="#000" stroke-width="0.18">Sphingomyelin</text>
</g>
<g id="panel_f">
<text x="382.2" y="418.8" font-size="14.5" fill="#000" font-weight="bold" >f</text>
<text x="396.7" y="511.0" font-size="11.6" fill="#111" transform="rotate(-90 396.7 511.0)" >AreaUnits</text>
<text x="411.0" y="504.5" font-size="11.6" fill="#111" transform="rotate(-90 411.0 504.5)" >±Stdev</text>
<line x1="454" y1="429" x2="454" y2="468.4" stroke="#1a1a1a" stroke-width="1" />
<line x1="454" y1="473.6" x2="454" y2="512.4" stroke="#1a1a1a" stroke-width="1" />
<line x1="454" y1="517.6" x2="454" y2="553.9" stroke="#1a1a1a" stroke-width="1" />
<line x1="451.8" y1="466.1" x2="456.1" y2="469.9" stroke="#1a1a1a" stroke-width="0.9" />
<line x1="451.8" y1="471.1" x2="456.1" y2="474.9" stroke="#1a1a1a" stroke-width="0.9" />
<line x1="451.8" y1="510.5" x2="456.1" y2="514.3" stroke="#1a1a1a" stroke-width="0.9" />
<line x1="451.8" y1="515.9" x2="456.1" y2="519.6999999999999" stroke="#1a1a1a" stroke-width="0.9" />
<line x1="450" y1="553.4" x2="620.8" y2="553.4" stroke="#1a1a1a" stroke-width="1" />
<line x1="450" y1="436" x2="454" y2="436" stroke="#1a1a1a" stroke-width="1" />
<text x="444.8" y="439.9" font-size="11.2" text-anchor="end" fill="#111" >3000</text>
<line x1="450" y1="446.4" x2="454" y2="446.4" stroke="#1a1a1a" stroke-width="1" />
<text x="444.8" y="450.29999999999995" font-size="11.2" text-anchor="end" fill="#111" >2250</text>
<line x1="450" y1="457" x2="454" y2="457" stroke="#1a1a1a" stroke-width="1" />
<text x="444.8" y="460.9" font-size="11.2" text-anchor="end" fill="#111" >1500</text>
<line x1="450" y1="466.6" x2="454" y2="466.6" stroke="#1a1a1a" stroke-width="1" />
<text x="444.8" y="470.5" font-size="11.2" text-anchor="end" fill="#111" >750</text>
<line x1="450" y1="479.6" x2="454" y2="479.6" stroke="#1a1a1a" stroke-width="1" />
<text x="444.8" y="483.5" font-size="11.2" text-anchor="end" fill="#111" >600</text>
<line x1="450" y1="491.4" x2="454" y2="491.4" stroke="#1a1a1a" stroke-width="1" />
<text x="444.8" y="495.29999999999995" font-size="11.2" text-anchor="end" fill="#111" >400</text>
<line x1="450" y1="503.4" x2="454" y2="503.4" stroke="#1a1a1a" stroke-width="1" />
<text x="444.8" y="507.29999999999995" font-size="11.2" text-anchor="end" fill="#111" >200</text>
<text x="444.8" y="522.9" font-size="11.2" text-anchor="end" fill="#111" >50</text>
<line x1="450" y1="536" x2="454" y2="536" stroke="#1a1a1a" stroke-width="1" />
<text x="444.8" y="539.9" font-size="11.2" text-anchor="end" fill="#111" >25</text>
<text x="444.8" y="557.3" font-size="11.2" text-anchor="end" fill="#111" >0</text>
<rect x="459.40" y="518.00" width="9.60" height="35.40" fill="#ff0000" stroke="#5a1a00" stroke-width="0.45" /><rect x="459.40" y="473.80" width="9.60" height="37.80" fill="#ff0000" stroke="#5a1a00" stroke-width="0.45" /><rect x="459.40" y="461.00" width="9.60" height="6.20" fill="#ff0000" stroke="#5a1a00" stroke-width="0.45" /><rect x="459.40" y="458.00" width="9.60" height="3.00" fill="#6e6e6e" stroke="#333" stroke-width="0.4" />
<rect x="473.40" y="532.00" width="10.20" height="21.40" fill="#ff6600" stroke="#5a1a00" stroke-width="0.45" />
<rect x="517.60" y="518.00" width="10.20" height="35.40" fill="#ff0000" stroke="#5a1a00" stroke-width="0.45" /><rect x="517.60" y="473.80" width="10.20" height="37.80" fill="#ff0000" stroke="#5a1a00" stroke-width="0.45" /><rect x="517.60" y="443.70" width="10.20" height="23.50" fill="#ff0000" stroke="#5a1a00" stroke-width="0.45" /><rect x="517.60" y="440.00" width="10.20" height="3.70" fill="#6e6e6e" stroke="#333" stroke-width="0.4" />
<rect x="532.40" y="518.00" width="10.00" height="35.40" fill="#ff6600" stroke="#5a1a00" stroke-width="0.45" /><rect x="532.40" y="494.00" width="10.00" height="17.60" fill="#ff6600" stroke="#5a1a00" stroke-width="0.45" />
<rect x="546.70" y="541.80" width="10.00" height="11.60" fill="#00bb00" stroke="#5a1a00" stroke-width="0.45" />
<rect x="576.20" y="518.00" width="10.20" height="35.40" fill="#ff0000" stroke="#5a1a00" stroke-width="0.45" /><rect x="576.20" y="473.80" width="10.20" height="37.80" fill="#ff0000" stroke="#5a1a00" stroke-width="0.45" /><rect x="576.20" y="444.60" width="10.20" height="22.60" fill="#ff0000" stroke="#5a1a00" stroke-width="0.45" /><rect x="576.20" y="440.50" width="10.20" height="4.10" fill="#6e6e6e" stroke="#333" stroke-width="0.4" />
<rect x="591.00" y="518.00" width="10.00" height="35.40" fill="#ff6600" stroke="#5a1a00" stroke-width="0.45" /><rect x="591.00" y="483.20" width="10.00" height="28.40" fill="#ff6600" stroke="#5a1a00" stroke-width="0.45" />
<rect x="605.90" y="528.00" width="9.70" height="25.40" fill="#00bb00" stroke="#5a1a00" stroke-width="0.45" />
<text x="470.6" y="440.6" font-size="10" text-anchor="middle" fill="#111" >0.02</text>
<path d="M463.4 452.4 V442.4 H478.6 V519.4" stroke="#777" stroke-width="0.65" fill="none" />
<text x="528.9" y="422" font-size="10" text-anchor="middle" fill="#111" >0.14</text>
<path d="M522 433.8 V424.3 H537.5 V474.8" stroke="#777" stroke-width="0.65" fill="none" />
<text x="587.5" y="422" font-size="10" text-anchor="middle" fill="#111" >0.23</text>
<path d="M581.3 433.8 V424.3 H596 V469.7" stroke="#777" stroke-width="0.65" fill="none" />
<text x="487.9" y="564.6" font-size="12.7" text-anchor="end" fill="#111" transform="rotate(-45 487.9 564.6)" >LNCaP</text>
<text x="547.5" y="564.6" font-size="12.7" text-anchor="end" fill="#111" transform="rotate(-45 547.5 564.6)" >PC-3M</text>
<text x="605.9" y="564.6" font-size="12.7" text-anchor="end" fill="#111" transform="rotate(-45 605.9 564.6)" >RM-9</text>
<rect x="387.20" y="604.40" width="8.60" height="7.20" fill="#777" stroke="#444" stroke-width="0.5" />
<text x="401.4" y="611.3" font-size="8.55" fill="#111" >SM(18:1/18:1)</text>
<rect x="387.20" y="613.95" width="8.60" height="7.20" fill="#999" stroke="#444" stroke-width="0.5" />
<text x="401.4" y="620.8499999999999" font-size="8.55" fill="#111" >Ceramide(18:1/18:1)</text>
<rect x="387.20" y="623.50" width="8.60" height="7.20" fill="#ccc" stroke="#444" stroke-width="0.5" />
<text x="401.4" y="630.4" font-size="8.55" fill="#111" >GlucosyCeramide(18:1/18:1)</text>
<rect x="528.60" y="604.40" width="8.40" height="7.20" fill="#ff0000" stroke="#5a1a00" stroke-width="0.4" />
<text x="542.8" y="611.3" font-size="8.55" fill="#111" >SM(18:1/18:1-d9)</text>
<rect x="528.60" y="613.95" width="8.40" height="7.20" fill="#ff6600" stroke="#5a1a00" stroke-width="0.4" />
<text x="542.8" y="620.8499999999999" font-size="8.55" fill="#111" >Ceramide(18:1/18:1-d9)</text>
<rect x="528.60" y="623.50" width="8.40" height="7.20" fill="#00bb00" stroke="#5a1a00" stroke-width="0.4" />
<text x="542.8" y="630.4" font-size="8.55" fill="#111" >GlucosyCeramide(18:1/18:1-d9)</text>
</g>
</svg>
</body></html>
